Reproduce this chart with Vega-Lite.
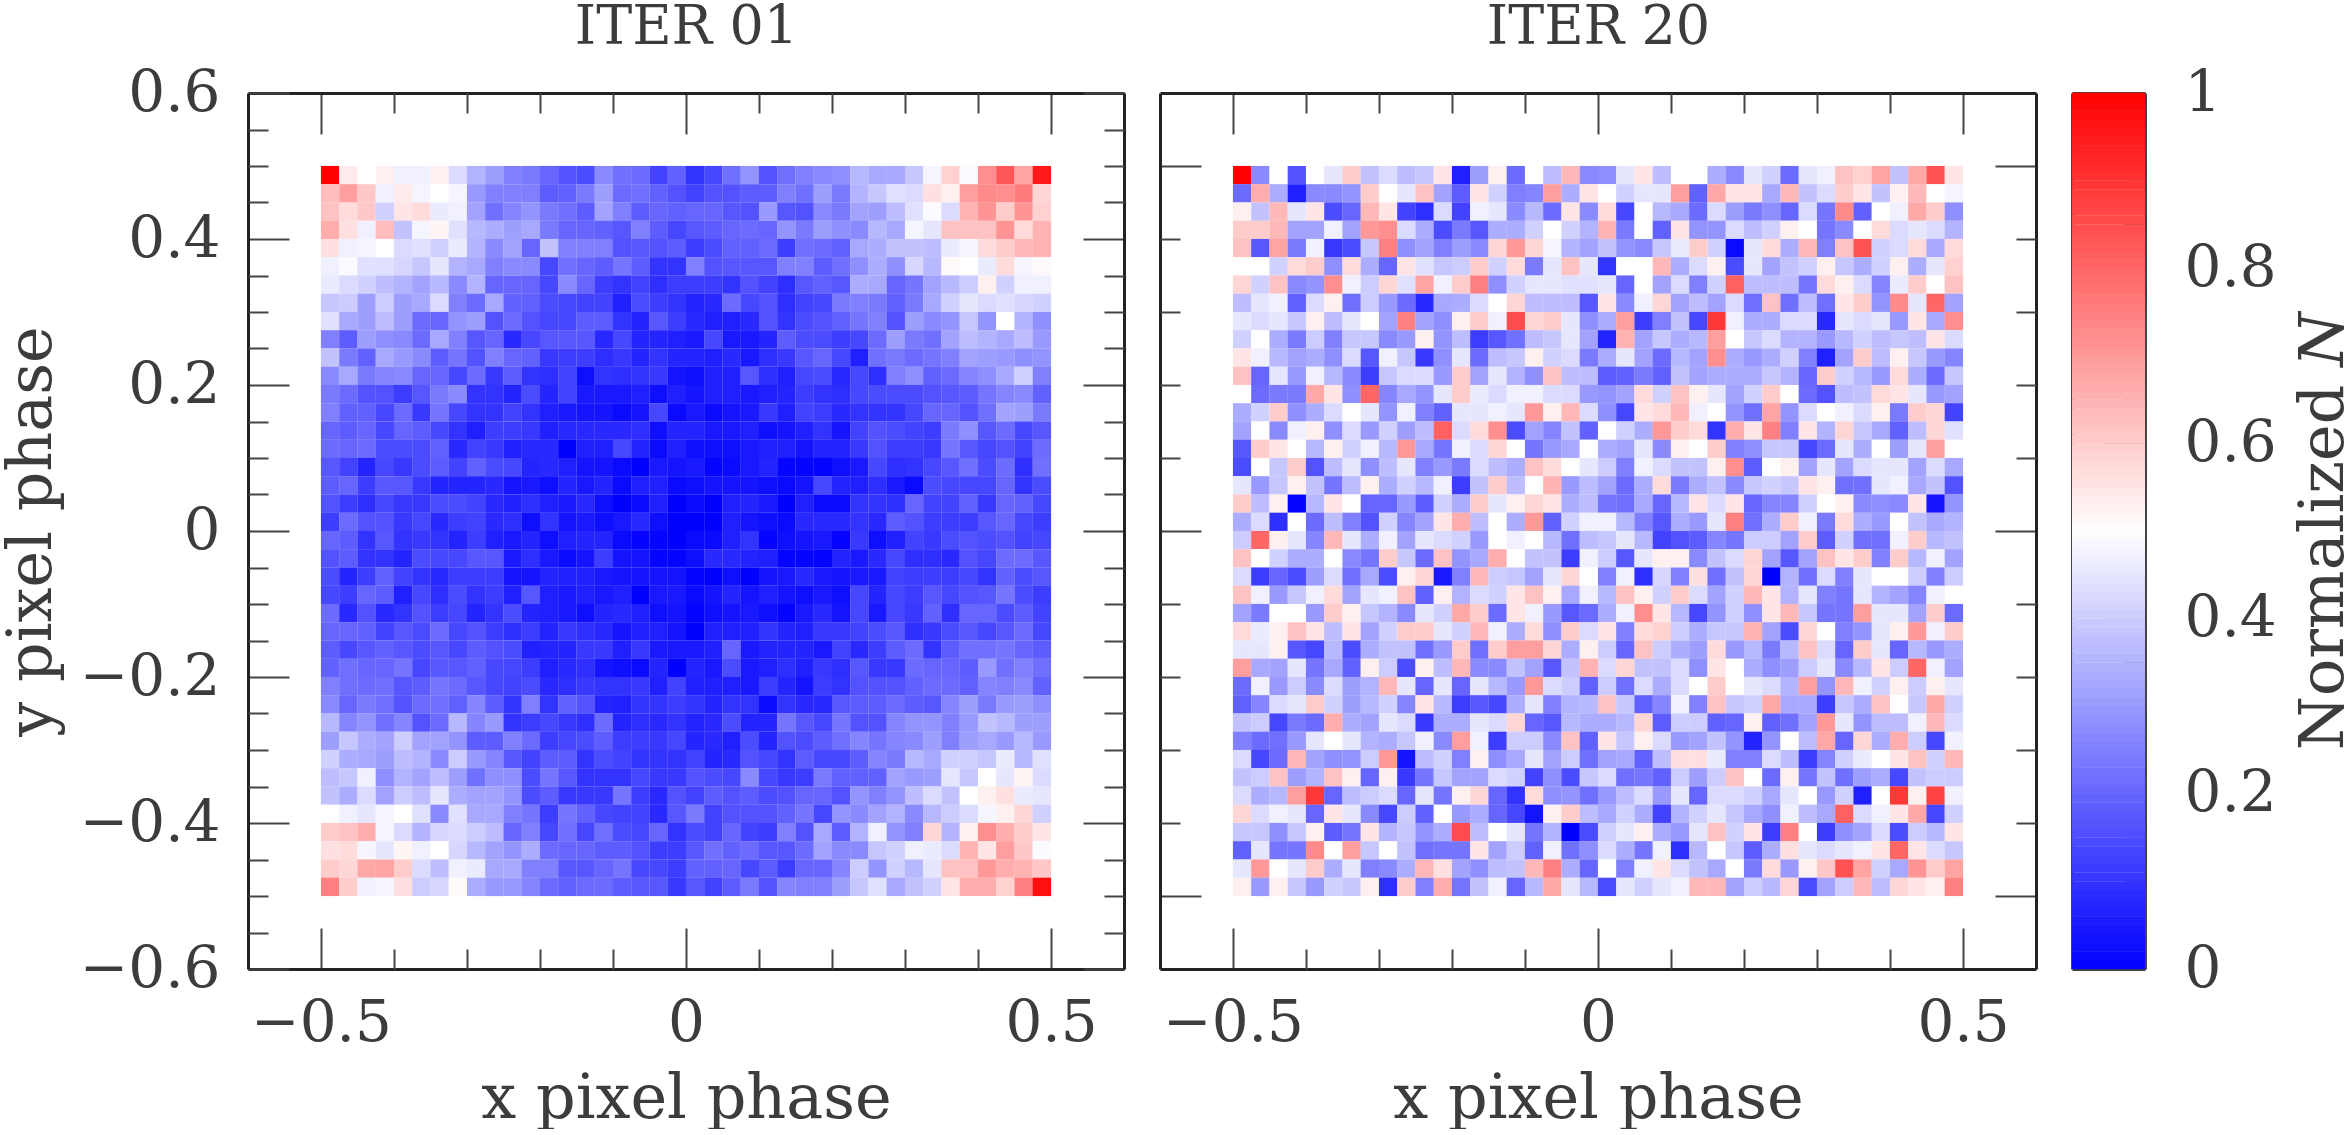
{"$schema":"https://vega.github.io/schema/vega-lite/v6.json","padding":{"left":0,"top":0,"right":0,"bottom":0},"background":"white","bounds":"flush","spacing":36,
"config":{"font":"DejaVu Serif","view":{"stroke":null},"axis":{"grid":false,"labelFont":"DejaVu Serif","labelFontSize":58,"labelColor":"#3c3c3c","titleFont":"DejaVu Serif","titleFontSize":62,"titleFontWeight":"normal","titleColor":"#3c3c3c","tickColor":"#444444","tickWidth":2,"domainColor":"#222222","domainWidth":3,"labelFlush":false,"labelOverlap":false}},
"datasets":{"frame":[{"x":0,"y":0}],
"iter01":[
{"c":0,"r":0,"n":100},{"c":1,"r":0,"n":54},{"c":2,"r":0,"n":50},{"c":3,"r":0,"n":53},{"c":4,"r":0,"n":47},{"c":5,"r":0,"n":47},{"c":6,"r":0,"n":53},{"c":7,"r":0,"n":43},{"c":8,"r":0,"n":35},{"c":9,"r":0,"n":31},{"c":10,"r":0,"n":25},{"c":11,"r":0,"n":24},{"c":12,"r":0,"n":20},{"c":13,"r":0,"n":16},{"c":14,"r":0,"n":15},{"c":15,"r":0,"n":27},{"c":16,"r":0,"n":22},{"c":17,"r":0,"n":21},{"c":18,"r":0,"n":13},{"c":19,"r":0,"n":19},{"c":20,"r":0,"n":10},{"c":21,"r":0,"n":14},{"c":22,"r":0,"n":22},{"c":23,"r":0,"n":29},{"c":24,"r":0,"n":16},{"c":25,"r":0,"n":22},{"c":26,"r":0,"n":25},{"c":27,"r":0,"n":27},{"c":28,"r":0,"n":28},{"c":29,"r":0,"n":36},{"c":30,"r":0,"n":33},{"c":31,"r":0,"n":33},{"c":32,"r":0,"n":39},{"c":33,"r":0,"n":48},{"c":34,"r":0,"n":59},{"c":35,"r":0,"n":49},{"c":36,"r":0,"n":72},{"c":37,"r":0,"n":83},{"c":38,"r":0,"n":68},{"c":39,"r":0,"n":95},
{"c":0,"r":1,"n":63},{"c":1,"r":1,"n":69},{"c":2,"r":1,"n":61},{"c":3,"r":1,"n":47},{"c":4,"r":1,"n":54},{"c":5,"r":1,"n":48},{"c":6,"r":1,"n":50},{"c":7,"r":1,"n":48},{"c":8,"r":1,"n":30},{"c":9,"r":1,"n":25},{"c":10,"r":1,"n":25},{"c":11,"r":1,"n":25},{"c":12,"r":1,"n":18},{"c":13,"r":1,"n":19},{"c":14,"r":1,"n":24},{"c":15,"r":1,"n":31},{"c":16,"r":1,"n":21},{"c":17,"r":1,"n":22},{"c":18,"r":1,"n":19},{"c":19,"r":1,"n":16},{"c":20,"r":1,"n":13},{"c":21,"r":1,"n":16},{"c":22,"r":1,"n":16},{"c":23,"r":1,"n":18},{"c":24,"r":1,"n":18},{"c":25,"r":1,"n":25},{"c":26,"r":1,"n":22},{"c":27,"r":1,"n":31},{"c":28,"r":1,"n":24},{"c":29,"r":1,"n":35},{"c":30,"r":1,"n":39},{"c":31,"r":1,"n":44},{"c":32,"r":1,"n":43},{"c":33,"r":1,"n":56},{"c":34,"r":1,"n":53},{"c":35,"r":1,"n":69},{"c":36,"r":1,"n":73},{"c":37,"r":1,"n":72},{"c":38,"r":1,"n":76},{"c":39,"r":1,"n":58},
{"c":0,"r":2,"n":62},{"c":1,"r":2,"n":57},{"c":2,"r":2,"n":61},{"c":3,"r":2,"n":41},{"c":4,"r":2,"n":55},{"c":5,"r":2,"n":57},{"c":6,"r":2,"n":46},{"c":7,"r":2,"n":47},{"c":8,"r":2,"n":32},{"c":9,"r":2,"n":22},{"c":10,"r":2,"n":26},{"c":11,"r":2,"n":29},{"c":12,"r":2,"n":24},{"c":13,"r":2,"n":22},{"c":14,"r":2,"n":18},{"c":15,"r":2,"n":32},{"c":16,"r":2,"n":25},{"c":17,"r":2,"n":18},{"c":18,"r":2,"n":20},{"c":19,"r":2,"n":19},{"c":20,"r":2,"n":20},{"c":21,"r":2,"n":20},{"c":22,"r":2,"n":17},{"c":23,"r":2,"n":16},{"c":24,"r":2,"n":30},{"c":25,"r":2,"n":17},{"c":26,"r":2,"n":16},{"c":27,"r":2,"n":27},{"c":28,"r":2,"n":24},{"c":29,"r":2,"n":32},{"c":30,"r":2,"n":31},{"c":31,"r":2,"n":37},{"c":32,"r":2,"n":44},{"c":33,"r":2,"n":49},{"c":34,"r":2,"n":43},{"c":35,"r":2,"n":65},{"c":36,"r":2,"n":71},{"c":37,"r":2,"n":60},{"c":38,"r":2,"n":71},{"c":39,"r":2,"n":59},
{"c":0,"r":3,"n":66},{"c":1,"r":3,"n":56},{"c":2,"r":3,"n":47},{"c":3,"r":3,"n":63},{"c":4,"r":3,"n":38},{"c":5,"r":3,"n":48},{"c":6,"r":3,"n":52},{"c":7,"r":3,"n":44},{"c":8,"r":3,"n":36},{"c":9,"r":3,"n":34},{"c":10,"r":3,"n":31},{"c":11,"r":3,"n":33},{"c":12,"r":3,"n":24},{"c":13,"r":3,"n":20},{"c":14,"r":3,"n":20},{"c":15,"r":3,"n":19},{"c":16,"r":3,"n":17},{"c":17,"r":3,"n":25},{"c":18,"r":3,"n":18},{"c":19,"r":3,"n":14},{"c":20,"r":3,"n":17},{"c":21,"r":3,"n":18},{"c":22,"r":3,"n":20},{"c":23,"r":3,"n":21},{"c":24,"r":3,"n":20},{"c":25,"r":3,"n":29},{"c":26,"r":3,"n":24},{"c":27,"r":3,"n":31},{"c":28,"r":3,"n":28},{"c":29,"r":3,"n":27},{"c":30,"r":3,"n":36},{"c":31,"r":3,"n":33},{"c":32,"r":3,"n":48},{"c":33,"r":3,"n":45},{"c":34,"r":3,"n":62},{"c":35,"r":3,"n":62},{"c":36,"r":3,"n":62},{"c":37,"r":3,"n":71},{"c":38,"r":3,"n":57},{"c":39,"r":3,"n":65},
{"c":0,"r":4,"n":56},{"c":1,"r":4,"n":47},{"c":2,"r":4,"n":48},{"c":3,"r":4,"n":50},{"c":4,"r":4,"n":43},{"c":5,"r":4,"n":44},{"c":6,"r":4,"n":41},{"c":7,"r":4,"n":46},{"c":8,"r":4,"n":35},{"c":9,"r":4,"n":27},{"c":10,"r":4,"n":32},{"c":11,"r":4,"n":20},{"c":12,"r":4,"n":38},{"c":13,"r":4,"n":25},{"c":14,"r":4,"n":25},{"c":15,"r":4,"n":25},{"c":16,"r":4,"n":16},{"c":17,"r":4,"n":17},{"c":18,"r":4,"n":16},{"c":19,"r":4,"n":18},{"c":20,"r":4,"n":12},{"c":21,"r":4,"n":15},{"c":22,"r":4,"n":19},{"c":23,"r":4,"n":19},{"c":24,"r":4,"n":21},{"c":25,"r":4,"n":12},{"c":26,"r":4,"n":22},{"c":27,"r":4,"n":21},{"c":28,"r":4,"n":19},{"c":29,"r":4,"n":33},{"c":30,"r":4,"n":34},{"c":31,"r":4,"n":38},{"c":32,"r":4,"n":38},{"c":33,"r":4,"n":37},{"c":34,"r":4,"n":46},{"c":35,"r":4,"n":48},{"c":36,"r":4,"n":57},{"c":37,"r":4,"n":60},{"c":38,"r":4,"n":64},{"c":39,"r":4,"n":65},
{"c":0,"r":5,"n":47},{"c":1,"r":5,"n":49},{"c":2,"r":5,"n":44},{"c":3,"r":5,"n":44},{"c":4,"r":5,"n":42},{"c":5,"r":5,"n":39},{"c":6,"r":5,"n":45},{"c":7,"r":5,"n":35},{"c":8,"r":5,"n":33},{"c":9,"r":5,"n":25},{"c":10,"r":5,"n":27},{"c":11,"r":5,"n":27},{"c":12,"r":5,"n":14},{"c":13,"r":5,"n":22},{"c":14,"r":5,"n":20},{"c":15,"r":5,"n":18},{"c":16,"r":5,"n":23},{"c":17,"r":5,"n":18},{"c":18,"r":5,"n":10},{"c":19,"r":5,"n":10},{"c":20,"r":5,"n":25},{"c":21,"r":5,"n":16},{"c":22,"r":5,"n":17},{"c":23,"r":5,"n":17},{"c":24,"r":5,"n":17},{"c":25,"r":5,"n":25},{"c":26,"r":5,"n":25},{"c":27,"r":5,"n":18},{"c":28,"r":5,"n":22},{"c":29,"r":5,"n":28},{"c":30,"r":5,"n":34},{"c":31,"r":5,"n":28},{"c":32,"r":5,"n":42},{"c":33,"r":5,"n":36},{"c":34,"r":5,"n":51},{"c":35,"r":5,"n":50},{"c":36,"r":5,"n":46},{"c":37,"r":5,"n":57},{"c":38,"r":5,"n":48},{"c":39,"r":5,"n":51},
{"c":0,"r":6,"n":46},{"c":1,"r":6,"n":43},{"c":2,"r":6,"n":41},{"c":3,"r":6,"n":37},{"c":4,"r":6,"n":35},{"c":5,"r":6,"n":32},{"c":6,"r":6,"n":36},{"c":7,"r":6,"n":27},{"c":8,"r":6,"n":35},{"c":9,"r":6,"n":20},{"c":10,"r":6,"n":20},{"c":11,"r":6,"n":20},{"c":12,"r":6,"n":14},{"c":13,"r":6,"n":27},{"c":14,"r":6,"n":20},{"c":15,"r":6,"n":12},{"c":16,"r":6,"n":10},{"c":17,"r":6,"n":13},{"c":18,"r":6,"n":9},{"c":19,"r":6,"n":12},{"c":20,"r":6,"n":12},{"c":21,"r":6,"n":12},{"c":22,"r":6,"n":10},{"c":23,"r":6,"n":16},{"c":24,"r":6,"n":13},{"c":25,"r":6,"n":9},{"c":26,"r":6,"n":17},{"c":27,"r":6,"n":19},{"c":28,"r":6,"n":17},{"c":29,"r":6,"n":34},{"c":30,"r":6,"n":33},{"c":31,"r":6,"n":20},{"c":32,"r":6,"n":23},{"c":33,"r":6,"n":32},{"c":34,"r":6,"n":36},{"c":35,"r":6,"n":40},{"c":36,"r":6,"n":53},{"c":37,"r":6,"n":41},{"c":38,"r":6,"n":47},{"c":39,"r":6,"n":47},
{"c":0,"r":7,"n":39},{"c":1,"r":7,"n":40},{"c":2,"r":7,"n":31},{"c":3,"r":7,"n":40},{"c":4,"r":7,"n":31},{"c":5,"r":7,"n":33},{"c":6,"r":7,"n":43},{"c":7,"r":7,"n":25},{"c":8,"r":7,"n":21},{"c":9,"r":7,"n":33},{"c":10,"r":7,"n":19},{"c":11,"r":7,"n":19},{"c":12,"r":7,"n":15},{"c":13,"r":7,"n":14},{"c":14,"r":7,"n":13},{"c":15,"r":7,"n":13},{"c":16,"r":7,"n":6},{"c":17,"r":7,"n":15},{"c":18,"r":7,"n":12},{"c":19,"r":7,"n":10},{"c":20,"r":7,"n":7},{"c":21,"r":7,"n":8},{"c":22,"r":7,"n":21},{"c":23,"r":7,"n":14},{"c":24,"r":7,"n":16},{"c":25,"r":7,"n":9},{"c":26,"r":7,"n":13},{"c":27,"r":7,"n":14},{"c":28,"r":7,"n":24},{"c":29,"r":7,"n":25},{"c":30,"r":7,"n":24},{"c":31,"r":7,"n":19},{"c":32,"r":7,"n":24},{"c":33,"r":7,"n":33},{"c":34,"r":7,"n":41},{"c":35,"r":7,"n":45},{"c":36,"r":7,"n":43},{"c":37,"r":7,"n":44},{"c":38,"r":7,"n":42},{"c":39,"r":7,"n":41},
{"c":0,"r":8,"n":44},{"c":1,"r":8,"n":33},{"c":2,"r":8,"n":31},{"c":3,"r":8,"n":37},{"c":4,"r":8,"n":31},{"c":5,"r":8,"n":21},{"c":6,"r":8,"n":20},{"c":7,"r":8,"n":29},{"c":8,"r":8,"n":31},{"c":9,"r":8,"n":16},{"c":10,"r":8,"n":21},{"c":11,"r":8,"n":16},{"c":12,"r":8,"n":14},{"c":13,"r":8,"n":14},{"c":14,"r":8,"n":18},{"c":15,"r":8,"n":18},{"c":16,"r":8,"n":10},{"c":17,"r":8,"n":7},{"c":18,"r":8,"n":17},{"c":19,"r":8,"n":12},{"c":20,"r":8,"n":8},{"c":21,"r":8,"n":6},{"c":22,"r":8,"n":6},{"c":23,"r":8,"n":8},{"c":24,"r":8,"n":16},{"c":25,"r":8,"n":10},{"c":26,"r":8,"n":15},{"c":27,"r":8,"n":16},{"c":28,"r":8,"n":19},{"c":29,"r":8,"n":23},{"c":30,"r":8,"n":25},{"c":31,"r":8,"n":16},{"c":32,"r":8,"n":31},{"c":33,"r":8,"n":27},{"c":34,"r":8,"n":29},{"c":35,"r":8,"n":39},{"c":36,"r":8,"n":29},{"c":37,"r":8,"n":50},{"c":38,"r":8,"n":35},{"c":39,"r":8,"n":28},
{"c":0,"r":9,"n":25},{"c":1,"r":9,"n":18},{"c":2,"r":9,"n":31},{"c":3,"r":9,"n":28},{"c":4,"r":9,"n":27},{"c":5,"r":9,"n":21},{"c":6,"r":9,"n":33},{"c":7,"r":9,"n":25},{"c":8,"r":9,"n":17},{"c":9,"r":9,"n":20},{"c":10,"r":9,"n":8},{"c":11,"r":9,"n":14},{"c":12,"r":9,"n":17},{"c":13,"r":9,"n":17},{"c":14,"r":9,"n":17},{"c":15,"r":9,"n":8},{"c":16,"r":9,"n":14},{"c":17,"r":9,"n":7},{"c":18,"r":9,"n":7},{"c":19,"r":9,"n":6},{"c":20,"r":9,"n":5},{"c":21,"r":9,"n":14},{"c":22,"r":9,"n":5},{"c":23,"r":9,"n":5},{"c":24,"r":9,"n":7},{"c":25,"r":9,"n":18},{"c":26,"r":9,"n":15},{"c":27,"r":9,"n":15},{"c":28,"r":9,"n":12},{"c":29,"r":9,"n":14},{"c":30,"r":9,"n":21},{"c":31,"r":9,"n":31},{"c":32,"r":9,"n":24},{"c":33,"r":9,"n":22},{"c":34,"r":9,"n":32},{"c":35,"r":9,"n":37},{"c":36,"r":9,"n":35},{"c":37,"r":9,"n":33},{"c":38,"r":9,"n":37},{"c":39,"r":9,"n":30},
{"c":0,"r":10,"n":38},{"c":1,"r":10,"n":24},{"c":2,"r":10,"n":19},{"c":3,"r":10,"n":33},{"c":4,"r":10,"n":30},{"c":5,"r":10,"n":27},{"c":6,"r":10,"n":18},{"c":7,"r":10,"n":23},{"c":8,"r":10,"n":16},{"c":9,"r":10,"n":25},{"c":10,"r":10,"n":20},{"c":11,"r":10,"n":19},{"c":12,"r":10,"n":11},{"c":13,"r":10,"n":12},{"c":14,"r":10,"n":12},{"c":15,"r":10,"n":9},{"c":16,"r":10,"n":11},{"c":17,"r":10,"n":7},{"c":18,"r":10,"n":10},{"c":19,"r":10,"n":7},{"c":20,"r":10,"n":7},{"c":21,"r":10,"n":6},{"c":22,"r":10,"n":8},{"c":23,"r":10,"n":5},{"c":24,"r":10,"n":9},{"c":25,"r":10,"n":11},{"c":26,"r":10,"n":17},{"c":27,"r":10,"n":20},{"c":28,"r":10,"n":14},{"c":29,"r":10,"n":6},{"c":30,"r":10,"n":22},{"c":31,"r":10,"n":24},{"c":32,"r":10,"n":21},{"c":33,"r":10,"n":23},{"c":34,"r":10,"n":25},{"c":35,"r":10,"n":32},{"c":36,"r":10,"n":31},{"c":37,"r":10,"n":30},{"c":38,"r":10,"n":28},{"c":39,"r":10,"n":29},
{"c":0,"r":11,"n":27},{"c":1,"r":11,"n":33},{"c":2,"r":11,"n":24},{"c":3,"r":11,"n":26},{"c":4,"r":11,"n":27},{"c":5,"r":11,"n":20},{"c":6,"r":11,"n":20},{"c":7,"r":11,"n":14},{"c":8,"r":11,"n":21},{"c":9,"r":11,"n":11},{"c":10,"r":11,"n":18},{"c":11,"r":11,"n":10},{"c":12,"r":11,"n":9},{"c":13,"r":11,"n":13},{"c":14,"r":11,"n":3},{"c":15,"r":11,"n":10},{"c":16,"r":11,"n":9},{"c":17,"r":11,"n":10},{"c":18,"r":11,"n":11},{"c":19,"r":11,"n":4},{"c":20,"r":11,"n":3},{"c":21,"r":11,"n":6},{"c":22,"r":11,"n":6},{"c":23,"r":11,"n":17},{"c":24,"r":11,"n":9},{"c":25,"r":11,"n":6},{"c":26,"r":11,"n":14},{"c":27,"r":11,"n":15},{"c":28,"r":11,"n":8},{"c":29,"r":11,"n":14},{"c":30,"r":11,"n":9},{"c":31,"r":11,"n":25},{"c":32,"r":11,"n":28},{"c":33,"r":11,"n":19},{"c":34,"r":11,"n":21},{"c":35,"r":11,"n":26},{"c":36,"r":11,"n":28},{"c":37,"r":11,"n":33},{"c":38,"r":11,"n":41},{"c":39,"r":11,"n":25},
{"c":0,"r":12,"n":24},{"c":1,"r":12,"n":21},{"c":2,"r":12,"n":16},{"c":3,"r":12,"n":16},{"c":4,"r":12,"n":12},{"c":5,"r":12,"n":17},{"c":6,"r":12,"n":24},{"c":7,"r":12,"n":27},{"c":8,"r":12,"n":10},{"c":9,"r":12,"n":10},{"c":10,"r":12,"n":7},{"c":11,"r":12,"n":15},{"c":12,"r":12,"n":7},{"c":13,"r":12,"n":13},{"c":14,"r":12,"n":5},{"c":15,"r":12,"n":5},{"c":16,"r":12,"n":5},{"c":17,"r":12,"n":6},{"c":18,"r":12,"n":3},{"c":19,"r":12,"n":6},{"c":20,"r":12,"n":4},{"c":21,"r":12,"n":6},{"c":22,"r":12,"n":6},{"c":23,"r":12,"n":5},{"c":24,"r":12,"n":6},{"c":25,"r":12,"n":7},{"c":26,"r":12,"n":12},{"c":27,"r":12,"n":10},{"c":28,"r":12,"n":9},{"c":29,"r":12,"n":14},{"c":30,"r":12,"n":15},{"c":31,"r":12,"n":15},{"c":32,"r":12,"n":15},{"c":33,"r":12,"n":16},{"c":34,"r":12,"n":17},{"c":35,"r":12,"n":18},{"c":36,"r":12,"n":23},{"c":37,"r":12,"n":26},{"c":38,"r":12,"n":27},{"c":39,"r":12,"n":19},
{"c":0,"r":13,"n":25},{"c":1,"r":13,"n":19},{"c":2,"r":13,"n":19},{"c":3,"r":13,"n":14},{"c":4,"r":13,"n":21},{"c":5,"r":13,"n":11},{"c":6,"r":13,"n":23},{"c":7,"r":13,"n":14},{"c":8,"r":13,"n":10},{"c":9,"r":13,"n":10},{"c":10,"r":13,"n":13},{"c":11,"r":13,"n":10},{"c":12,"r":13,"n":6},{"c":13,"r":13,"n":5},{"c":14,"r":13,"n":4},{"c":15,"r":13,"n":4},{"c":16,"r":13,"n":2},{"c":17,"r":13,"n":4},{"c":18,"r":13,"n":14},{"c":19,"r":13,"n":2},{"c":20,"r":13,"n":5},{"c":21,"r":13,"n":2},{"c":22,"r":13,"n":4},{"c":23,"r":13,"n":5},{"c":24,"r":13,"n":11},{"c":25,"r":13,"n":6},{"c":26,"r":13,"n":13},{"c":27,"r":13,"n":12},{"c":28,"r":13,"n":8},{"c":29,"r":13,"n":10},{"c":30,"r":13,"n":10},{"c":31,"r":13,"n":10},{"c":32,"r":13,"n":14},{"c":33,"r":13,"n":20},{"c":34,"r":13,"n":20},{"c":35,"r":13,"n":16},{"c":36,"r":13,"n":22},{"c":37,"r":13,"n":32},{"c":38,"r":13,"n":31},{"c":39,"r":13,"n":24},
{"c":0,"r":14,"n":20},{"c":1,"r":14,"n":18},{"c":2,"r":14,"n":20},{"c":3,"r":14,"n":14},{"c":4,"r":14,"n":20},{"c":5,"r":14,"n":18},{"c":6,"r":14,"n":14},{"c":7,"r":14,"n":10},{"c":8,"r":14,"n":6},{"c":9,"r":14,"n":12},{"c":10,"r":14,"n":12},{"c":11,"r":14,"n":11},{"c":12,"r":14,"n":6},{"c":13,"r":14,"n":8},{"c":14,"r":14,"n":8},{"c":15,"r":14,"n":8},{"c":16,"r":14,"n":8},{"c":17,"r":14,"n":9},{"c":18,"r":14,"n":3},{"c":19,"r":14,"n":7},{"c":20,"r":14,"n":7},{"c":21,"r":14,"n":5},{"c":22,"r":14,"n":5},{"c":23,"r":14,"n":6},{"c":24,"r":14,"n":3},{"c":25,"r":14,"n":4},{"c":26,"r":14,"n":6},{"c":27,"r":14,"n":10},{"c":28,"r":14,"n":4},{"c":29,"r":14,"n":13},{"c":30,"r":14,"n":16},{"c":31,"r":14,"n":15},{"c":32,"r":14,"n":13},{"c":33,"r":14,"n":12},{"c":34,"r":14,"n":24},{"c":35,"r":14,"n":28},{"c":36,"r":14,"n":17},{"c":37,"r":14,"n":21},{"c":38,"r":14,"n":14},{"c":39,"r":14,"n":17},
{"c":0,"r":15,"n":21},{"c":1,"r":15,"n":20},{"c":2,"r":15,"n":21},{"c":3,"r":15,"n":15},{"c":4,"r":15,"n":15},{"c":5,"r":15,"n":15},{"c":6,"r":15,"n":19},{"c":7,"r":15,"n":8},{"c":8,"r":15,"n":13},{"c":9,"r":15,"n":11},{"c":10,"r":15,"n":6},{"c":11,"r":15,"n":8},{"c":12,"r":15,"n":8},{"c":13,"r":15,"n":0},{"c":14,"r":15,"n":6},{"c":15,"r":15,"n":6},{"c":16,"r":15,"n":14},{"c":17,"r":15,"n":7},{"c":18,"r":15,"n":2},{"c":19,"r":15,"n":6},{"c":20,"r":15,"n":3},{"c":21,"r":15,"n":3},{"c":22,"r":15,"n":3},{"c":23,"r":15,"n":5},{"c":24,"r":15,"n":6},{"c":25,"r":15,"n":6},{"c":26,"r":15,"n":4},{"c":27,"r":15,"n":7},{"c":28,"r":15,"n":7},{"c":29,"r":15,"n":11},{"c":30,"r":15,"n":16},{"c":31,"r":15,"n":12},{"c":32,"r":15,"n":12},{"c":33,"r":15,"n":11},{"c":34,"r":15,"n":23},{"c":35,"r":15,"n":17},{"c":36,"r":15,"n":14},{"c":37,"r":15,"n":16},{"c":38,"r":15,"n":13},{"c":39,"r":15,"n":21},
{"c":0,"r":16,"n":17},{"c":1,"r":16,"n":13},{"c":2,"r":16,"n":7},{"c":3,"r":16,"n":14},{"c":4,"r":16,"n":11},{"c":5,"r":16,"n":15},{"c":6,"r":16,"n":18},{"c":7,"r":16,"n":13},{"c":8,"r":16,"n":19},{"c":9,"r":16,"n":15},{"c":10,"r":16,"n":14},{"c":11,"r":16,"n":7},{"c":12,"r":16,"n":8},{"c":13,"r":16,"n":6},{"c":14,"r":16,"n":4},{"c":15,"r":16,"n":4},{"c":16,"r":16,"n":2},{"c":17,"r":16,"n":0},{"c":18,"r":16,"n":5},{"c":19,"r":16,"n":4},{"c":20,"r":16,"n":5},{"c":21,"r":16,"n":1},{"c":22,"r":16,"n":2},{"c":23,"r":16,"n":5},{"c":24,"r":16,"n":7},{"c":25,"r":16,"n":1},{"c":26,"r":16,"n":1},{"c":27,"r":16,"n":1},{"c":28,"r":16,"n":3},{"c":29,"r":16,"n":5},{"c":30,"r":16,"n":14},{"c":31,"r":16,"n":9},{"c":32,"r":16,"n":10},{"c":33,"r":16,"n":14},{"c":34,"r":16,"n":17},{"c":35,"r":16,"n":22},{"c":36,"r":16,"n":15},{"c":37,"r":16,"n":21},{"c":38,"r":16,"n":9},{"c":39,"r":16,"n":22},
{"c":0,"r":17,"n":18},{"c":1,"r":17,"n":20},{"c":2,"r":17,"n":12},{"c":3,"r":17,"n":17},{"c":4,"r":17,"n":17},{"c":5,"r":17,"n":11},{"c":6,"r":17,"n":7},{"c":7,"r":17,"n":7},{"c":8,"r":17,"n":7},{"c":9,"r":17,"n":8},{"c":10,"r":17,"n":4},{"c":11,"r":17,"n":5},{"c":12,"r":17,"n":3},{"c":13,"r":17,"n":7},{"c":14,"r":17,"n":5},{"c":15,"r":17,"n":7},{"c":16,"r":17,"n":2},{"c":17,"r":17,"n":6},{"c":18,"r":17,"n":6},{"c":19,"r":17,"n":2},{"c":20,"r":17,"n":3},{"c":21,"r":17,"n":4},{"c":22,"r":17,"n":4},{"c":23,"r":17,"n":4},{"c":24,"r":17,"n":3},{"c":25,"r":17,"n":2},{"c":26,"r":17,"n":4},{"c":27,"r":17,"n":14},{"c":28,"r":17,"n":7},{"c":29,"r":17,"n":6},{"c":30,"r":17,"n":9},{"c":31,"r":17,"n":5},{"c":32,"r":17,"n":2},{"c":33,"r":17,"n":15},{"c":34,"r":17,"n":14},{"c":35,"r":17,"n":14},{"c":36,"r":17,"n":14},{"c":37,"r":17,"n":20},{"c":38,"r":17,"n":10},{"c":39,"r":17,"n":15},
{"c":0,"r":18,"n":16},{"c":1,"r":18,"n":12},{"c":2,"r":18,"n":9},{"c":3,"r":18,"n":14},{"c":4,"r":18,"n":11},{"c":5,"r":18,"n":11},{"c":6,"r":18,"n":15},{"c":7,"r":18,"n":15},{"c":8,"r":18,"n":13},{"c":9,"r":18,"n":8},{"c":10,"r":18,"n":6},{"c":11,"r":18,"n":9},{"c":12,"r":18,"n":6},{"c":13,"r":18,"n":5},{"c":14,"r":18,"n":8},{"c":15,"r":18,"n":3},{"c":16,"r":18,"n":0},{"c":17,"r":18,"n":2},{"c":18,"r":18,"n":6},{"c":19,"r":18,"n":0},{"c":20,"r":18,"n":2},{"c":21,"r":18,"n":0},{"c":22,"r":18,"n":6},{"c":23,"r":18,"n":7},{"c":24,"r":18,"n":5},{"c":25,"r":18,"n":0},{"c":26,"r":18,"n":6},{"c":27,"r":18,"n":2},{"c":28,"r":18,"n":2},{"c":29,"r":18,"n":10},{"c":30,"r":18,"n":10},{"c":31,"r":18,"n":9},{"c":32,"r":18,"n":20},{"c":33,"r":18,"n":13},{"c":34,"r":18,"n":13},{"c":35,"r":18,"n":19},{"c":36,"r":18,"n":11},{"c":37,"r":18,"n":20},{"c":38,"r":18,"n":19},{"c":39,"r":18,"n":14},
{"c":0,"r":19,"n":12},{"c":1,"r":19,"n":21},{"c":2,"r":19,"n":16},{"c":3,"r":19,"n":16},{"c":4,"r":19,"n":11},{"c":5,"r":19,"n":14},{"c":6,"r":19,"n":8},{"c":7,"r":19,"n":12},{"c":8,"r":19,"n":13},{"c":9,"r":19,"n":8},{"c":10,"r":19,"n":9},{"c":11,"r":19,"n":3},{"c":12,"r":19,"n":10},{"c":13,"r":19,"n":4},{"c":14,"r":19,"n":5},{"c":15,"r":19,"n":3},{"c":16,"r":19,"n":5},{"c":17,"r":19,"n":8},{"c":18,"r":19,"n":3},{"c":19,"r":19,"n":0},{"c":20,"r":19,"n":0},{"c":21,"r":19,"n":0},{"c":22,"r":19,"n":6},{"c":23,"r":19,"n":4},{"c":24,"r":19,"n":3},{"c":25,"r":19,"n":2},{"c":26,"r":19,"n":8},{"c":27,"r":19,"n":8},{"c":28,"r":19,"n":8},{"c":29,"r":19,"n":10},{"c":30,"r":19,"n":8},{"c":31,"r":19,"n":18},{"c":32,"r":19,"n":16},{"c":33,"r":19,"n":12},{"c":34,"r":19,"n":12},{"c":35,"r":19,"n":12},{"c":36,"r":19,"n":17},{"c":37,"r":19,"n":20},{"c":38,"r":19,"n":14},{"c":39,"r":19,"n":12},
{"c":0,"r":20,"n":20},{"c":1,"r":20,"n":18},{"c":2,"r":20,"n":10},{"c":3,"r":20,"n":17},{"c":4,"r":20,"n":10},{"c":5,"r":20,"n":11},{"c":6,"r":20,"n":10},{"c":7,"r":20,"n":7},{"c":8,"r":20,"n":12},{"c":9,"r":20,"n":6},{"c":10,"r":20,"n":5},{"c":11,"r":20,"n":7},{"c":12,"r":20,"n":3},{"c":13,"r":20,"n":6},{"c":14,"r":20,"n":7},{"c":15,"r":20,"n":7},{"c":16,"r":20,"n":2},{"c":17,"r":20,"n":1},{"c":18,"r":20,"n":1},{"c":19,"r":20,"n":0},{"c":20,"r":20,"n":2},{"c":21,"r":20,"n":2},{"c":22,"r":20,"n":6},{"c":23,"r":20,"n":10},{"c":24,"r":20,"n":1},{"c":25,"r":20,"n":3},{"c":26,"r":20,"n":4},{"c":27,"r":20,"n":5},{"c":28,"r":20,"n":1},{"c":29,"r":20,"n":11},{"c":30,"r":20,"n":3},{"c":31,"r":20,"n":6},{"c":32,"r":20,"n":13},{"c":33,"r":20,"n":11},{"c":34,"r":20,"n":15},{"c":35,"r":20,"n":16},{"c":36,"r":20,"n":15},{"c":37,"r":20,"n":16},{"c":38,"r":20,"n":13},{"c":39,"r":20,"n":14},
{"c":0,"r":21,"n":16},{"c":1,"r":21,"n":18},{"c":2,"r":21,"n":10},{"c":3,"r":21,"n":10},{"c":4,"r":21,"n":7},{"c":5,"r":21,"n":15},{"c":6,"r":21,"n":14},{"c":7,"r":21,"n":14},{"c":8,"r":21,"n":17},{"c":9,"r":21,"n":17},{"c":10,"r":21,"n":5},{"c":11,"r":21,"n":9},{"c":12,"r":21,"n":5},{"c":13,"r":21,"n":2},{"c":14,"r":21,"n":4},{"c":15,"r":21,"n":12},{"c":16,"r":21,"n":4},{"c":17,"r":21,"n":4},{"c":18,"r":21,"n":1},{"c":19,"r":21,"n":1},{"c":20,"r":21,"n":3},{"c":21,"r":21,"n":8},{"c":22,"r":21,"n":8},{"c":23,"r":21,"n":7},{"c":24,"r":21,"n":6},{"c":25,"r":21,"n":1},{"c":26,"r":21,"n":1},{"c":27,"r":21,"n":1},{"c":28,"r":21,"n":7},{"c":29,"r":21,"n":5},{"c":30,"r":21,"n":8},{"c":31,"r":21,"n":14},{"c":32,"r":21,"n":9},{"c":33,"r":21,"n":9},{"c":34,"r":21,"n":8},{"c":35,"r":21,"n":16},{"c":36,"r":21,"n":14},{"c":37,"r":21,"n":21},{"c":38,"r":21,"n":21},{"c":39,"r":21,"n":17},
{"c":0,"r":22,"n":15},{"c":1,"r":22,"n":7},{"c":2,"r":22,"n":12},{"c":3,"r":22,"n":19},{"c":4,"r":22,"n":13},{"c":5,"r":22,"n":10},{"c":6,"r":22,"n":8},{"c":7,"r":22,"n":12},{"c":8,"r":22,"n":12},{"c":9,"r":22,"n":12},{"c":10,"r":22,"n":4},{"c":11,"r":22,"n":4},{"c":12,"r":22,"n":7},{"c":13,"r":22,"n":6},{"c":14,"r":22,"n":6},{"c":15,"r":22,"n":5},{"c":16,"r":22,"n":4},{"c":17,"r":22,"n":4},{"c":18,"r":22,"n":4},{"c":19,"r":22,"n":4},{"c":20,"r":22,"n":1},{"c":21,"r":22,"n":0},{"c":22,"r":22,"n":3},{"c":23,"r":22,"n":0},{"c":24,"r":22,"n":4},{"c":25,"r":22,"n":5},{"c":26,"r":22,"n":8},{"c":27,"r":22,"n":5},{"c":28,"r":22,"n":4},{"c":29,"r":22,"n":5},{"c":30,"r":22,"n":5},{"c":31,"r":22,"n":13},{"c":32,"r":22,"n":12},{"c":33,"r":22,"n":12},{"c":34,"r":22,"n":12},{"c":35,"r":22,"n":14},{"c":36,"r":22,"n":10},{"c":37,"r":22,"n":19},{"c":38,"r":22,"n":15},{"c":39,"r":22,"n":17},
{"c":0,"r":23,"n":14},{"c":1,"r":23,"n":12},{"c":2,"r":23,"n":20},{"c":3,"r":23,"n":18},{"c":4,"r":23,"n":6},{"c":5,"r":23,"n":14},{"c":6,"r":23,"n":9},{"c":7,"r":23,"n":15},{"c":8,"r":23,"n":10},{"c":9,"r":23,"n":12},{"c":10,"r":23,"n":6},{"c":11,"r":23,"n":17},{"c":12,"r":23,"n":6},{"c":13,"r":23,"n":5},{"c":14,"r":23,"n":6},{"c":15,"r":23,"n":5},{"c":16,"r":23,"n":6},{"c":17,"r":23,"n":0},{"c":18,"r":23,"n":5},{"c":19,"r":23,"n":5},{"c":20,"r":23,"n":2},{"c":21,"r":23,"n":4},{"c":22,"r":23,"n":7},{"c":23,"r":23,"n":4},{"c":24,"r":23,"n":6},{"c":25,"r":23,"n":4},{"c":26,"r":23,"n":3},{"c":27,"r":23,"n":5},{"c":28,"r":23,"n":3},{"c":29,"r":23,"n":14},{"c":30,"r":23,"n":7},{"c":31,"r":23,"n":14},{"c":32,"r":23,"n":12},{"c":33,"r":23,"n":17},{"c":34,"r":23,"n":14},{"c":35,"r":23,"n":16},{"c":36,"r":23,"n":17},{"c":37,"r":23,"n":23},{"c":38,"r":23,"n":15},{"c":39,"r":23,"n":12},
{"c":0,"r":24,"n":21},{"c":1,"r":24,"n":8},{"c":2,"r":24,"n":16},{"c":3,"r":24,"n":8},{"c":4,"r":24,"n":10},{"c":5,"r":24,"n":16},{"c":6,"r":24,"n":12},{"c":7,"r":24,"n":14},{"c":8,"r":24,"n":7},{"c":9,"r":24,"n":10},{"c":10,"r":24,"n":15},{"c":11,"r":24,"n":7},{"c":12,"r":24,"n":6},{"c":13,"r":24,"n":5},{"c":14,"r":24,"n":3},{"c":15,"r":24,"n":7},{"c":16,"r":24,"n":8},{"c":17,"r":24,"n":6},{"c":18,"r":24,"n":3},{"c":19,"r":24,"n":4},{"c":20,"r":24,"n":1},{"c":21,"r":24,"n":3},{"c":22,"r":24,"n":4},{"c":23,"r":24,"n":5},{"c":24,"r":24,"n":3},{"c":25,"r":24,"n":1},{"c":26,"r":24,"n":5},{"c":27,"r":24,"n":8},{"c":28,"r":24,"n":4},{"c":29,"r":24,"n":14},{"c":30,"r":24,"n":5},{"c":31,"r":24,"n":14},{"c":32,"r":24,"n":11},{"c":33,"r":24,"n":19},{"c":34,"r":24,"n":9},{"c":35,"r":24,"n":20},{"c":36,"r":24,"n":20},{"c":37,"r":24,"n":15},{"c":38,"r":24,"n":18},{"c":39,"r":24,"n":13},
{"c":0,"r":25,"n":20},{"c":1,"r":25,"n":20},{"c":2,"r":25,"n":19},{"c":3,"r":25,"n":13},{"c":4,"r":25,"n":17},{"c":5,"r":25,"n":15},{"c":6,"r":25,"n":21},{"c":7,"r":25,"n":14},{"c":8,"r":25,"n":16},{"c":9,"r":25,"n":12},{"c":10,"r":25,"n":9},{"c":11,"r":25,"n":12},{"c":12,"r":25,"n":7},{"c":13,"r":25,"n":11},{"c":14,"r":25,"n":9},{"c":15,"r":25,"n":8},{"c":16,"r":25,"n":4},{"c":17,"r":25,"n":6},{"c":18,"r":25,"n":6},{"c":19,"r":25,"n":4},{"c":20,"r":25,"n":0},{"c":21,"r":25,"n":6},{"c":22,"r":25,"n":6},{"c":23,"r":25,"n":6},{"c":24,"r":25,"n":10},{"c":25,"r":25,"n":7},{"c":26,"r":25,"n":6},{"c":27,"r":25,"n":11},{"c":28,"r":25,"n":11},{"c":29,"r":25,"n":13},{"c":30,"r":25,"n":15},{"c":31,"r":25,"n":17},{"c":32,"r":25,"n":9},{"c":33,"r":25,"n":11},{"c":34,"r":25,"n":15},{"c":35,"r":25,"n":17},{"c":36,"r":25,"n":14},{"c":37,"r":25,"n":17},{"c":38,"r":25,"n":21},{"c":39,"r":25,"n":14},
{"c":0,"r":26,"n":18},{"c":1,"r":26,"n":14},{"c":2,"r":26,"n":17},{"c":3,"r":26,"n":19},{"c":4,"r":26,"n":17},{"c":5,"r":26,"n":15},{"c":6,"r":26,"n":17},{"c":7,"r":26,"n":14},{"c":8,"r":26,"n":18},{"c":9,"r":26,"n":16},{"c":10,"r":26,"n":15},{"c":11,"r":26,"n":6},{"c":12,"r":26,"n":7},{"c":13,"r":26,"n":7},{"c":14,"r":26,"n":11},{"c":15,"r":26,"n":11},{"c":16,"r":26,"n":6},{"c":17,"r":26,"n":11},{"c":18,"r":26,"n":5},{"c":19,"r":26,"n":5},{"c":20,"r":26,"n":5},{"c":21,"r":26,"n":6},{"c":22,"r":26,"n":20},{"c":23,"r":26,"n":5},{"c":24,"r":26,"n":7},{"c":25,"r":26,"n":7},{"c":26,"r":26,"n":7},{"c":27,"r":26,"n":5},{"c":28,"r":26,"n":13},{"c":29,"r":26,"n":8},{"c":30,"r":26,"n":12},{"c":31,"r":26,"n":18},{"c":32,"r":26,"n":21},{"c":33,"r":26,"n":10},{"c":34,"r":26,"n":18},{"c":35,"r":26,"n":22},{"c":36,"r":26,"n":22},{"c":37,"r":26,"n":23},{"c":38,"r":26,"n":20},{"c":39,"r":26,"n":18},
{"c":0,"r":27,"n":19},{"c":1,"r":27,"n":22},{"c":2,"r":27,"n":20},{"c":3,"r":27,"n":20},{"c":4,"r":27,"n":23},{"c":5,"r":27,"n":14},{"c":6,"r":27,"n":17},{"c":7,"r":27,"n":17},{"c":8,"r":27,"n":19},{"c":9,"r":27,"n":14},{"c":10,"r":27,"n":14},{"c":11,"r":27,"n":12},{"c":12,"r":27,"n":6},{"c":13,"r":27,"n":8},{"c":14,"r":27,"n":9},{"c":15,"r":27,"n":4},{"c":16,"r":27,"n":3},{"c":17,"r":27,"n":2},{"c":18,"r":27,"n":7},{"c":19,"r":27,"n":0},{"c":20,"r":27,"n":7},{"c":21,"r":27,"n":5},{"c":22,"r":27,"n":15},{"c":23,"r":27,"n":5},{"c":24,"r":27,"n":6},{"c":25,"r":27,"n":9},{"c":26,"r":27,"n":6},{"c":27,"r":27,"n":11},{"c":28,"r":27,"n":9},{"c":29,"r":27,"n":17},{"c":30,"r":27,"n":11},{"c":31,"r":27,"n":11},{"c":32,"r":27,"n":21},{"c":33,"r":27,"n":20},{"c":34,"r":27,"n":20},{"c":35,"r":27,"n":18},{"c":36,"r":27,"n":30},{"c":37,"r":27,"n":22},{"c":38,"r":27,"n":25},{"c":39,"r":27,"n":22},
{"c":0,"r":28,"n":25},{"c":1,"r":28,"n":22},{"c":2,"r":28,"n":21},{"c":3,"r":28,"n":22},{"c":4,"r":28,"n":17},{"c":5,"r":28,"n":18},{"c":6,"r":28,"n":23},{"c":7,"r":28,"n":21},{"c":8,"r":28,"n":17},{"c":9,"r":28,"n":14},{"c":10,"r":28,"n":13},{"c":11,"r":28,"n":15},{"c":12,"r":28,"n":8},{"c":13,"r":28,"n":9},{"c":14,"r":28,"n":11},{"c":15,"r":28,"n":10},{"c":16,"r":28,"n":10},{"c":17,"r":28,"n":11},{"c":18,"r":28,"n":6},{"c":19,"r":28,"n":13},{"c":20,"r":28,"n":6},{"c":21,"r":28,"n":6},{"c":22,"r":28,"n":6},{"c":23,"r":28,"n":5},{"c":24,"r":28,"n":12},{"c":25,"r":28,"n":7},{"c":26,"r":28,"n":4},{"c":27,"r":28,"n":12},{"c":28,"r":28,"n":10},{"c":29,"r":28,"n":16},{"c":30,"r":28,"n":16},{"c":31,"r":28,"n":16},{"c":32,"r":28,"n":19},{"c":33,"r":28,"n":21},{"c":34,"r":28,"n":21},{"c":35,"r":28,"n":19},{"c":36,"r":28,"n":26},{"c":37,"r":28,"n":25},{"c":38,"r":28,"n":27},{"c":39,"r":28,"n":19},
{"c":0,"r":29,"n":27},{"c":1,"r":29,"n":20},{"c":2,"r":29,"n":24},{"c":3,"r":29,"n":22},{"c":4,"r":29,"n":16},{"c":5,"r":29,"n":21},{"c":6,"r":29,"n":22},{"c":7,"r":29,"n":19},{"c":8,"r":29,"n":26},{"c":9,"r":29,"n":18},{"c":10,"r":29,"n":10},{"c":11,"r":29,"n":25},{"c":12,"r":29,"n":10},{"c":13,"r":29,"n":19},{"c":14,"r":29,"n":16},{"c":15,"r":29,"n":7},{"c":16,"r":29,"n":6},{"c":17,"r":29,"n":10},{"c":18,"r":29,"n":10},{"c":19,"r":29,"n":12},{"c":20,"r":29,"n":10},{"c":21,"r":29,"n":7},{"c":22,"r":29,"n":10},{"c":23,"r":29,"n":10},{"c":24,"r":29,"n":2},{"c":25,"r":29,"n":10},{"c":26,"r":29,"n":8},{"c":27,"r":29,"n":8},{"c":28,"r":29,"n":17},{"c":29,"r":29,"n":18},{"c":30,"r":29,"n":18},{"c":31,"r":29,"n":21},{"c":32,"r":29,"n":18},{"c":33,"r":29,"n":17},{"c":34,"r":29,"n":26},{"c":35,"r":29,"n":31},{"c":36,"r":29,"n":24},{"c":37,"r":29,"n":30},{"c":38,"r":29,"n":31},{"c":39,"r":29,"n":28},
{"c":0,"r":30,"n":36},{"c":1,"r":30,"n":26},{"c":2,"r":30,"n":29},{"c":3,"r":30,"n":22},{"c":4,"r":30,"n":26},{"c":5,"r":30,"n":16},{"c":6,"r":30,"n":21},{"c":7,"r":30,"n":36},{"c":8,"r":30,"n":26},{"c":9,"r":30,"n":30},{"c":10,"r":30,"n":10},{"c":11,"r":30,"n":12},{"c":12,"r":30,"n":14},{"c":13,"r":30,"n":11},{"c":14,"r":30,"n":9},{"c":15,"r":30,"n":21},{"c":16,"r":30,"n":7},{"c":17,"r":30,"n":9},{"c":18,"r":30,"n":8},{"c":19,"r":30,"n":10},{"c":20,"r":30,"n":7},{"c":21,"r":30,"n":8},{"c":22,"r":30,"n":15},{"c":23,"r":30,"n":7},{"c":24,"r":30,"n":7},{"c":25,"r":30,"n":23},{"c":26,"r":30,"n":17},{"c":27,"r":30,"n":14},{"c":28,"r":30,"n":23},{"c":29,"r":30,"n":16},{"c":30,"r":30,"n":16},{"c":31,"r":30,"n":26},{"c":32,"r":30,"n":29},{"c":33,"r":30,"n":29},{"c":34,"r":30,"n":25},{"c":35,"r":30,"n":30},{"c":36,"r":30,"n":38},{"c":37,"r":30,"n":36},{"c":38,"r":30,"n":31},{"c":39,"r":30,"n":31},
{"c":0,"r":31,"n":31},{"c":1,"r":31,"n":39},{"c":2,"r":31,"n":34},{"c":3,"r":31,"n":32},{"c":4,"r":31,"n":40},{"c":5,"r":31,"n":32},{"c":6,"r":31,"n":32},{"c":7,"r":31,"n":29},{"c":8,"r":31,"n":18},{"c":9,"r":31,"n":18},{"c":10,"r":31,"n":25},{"c":11,"r":31,"n":21},{"c":12,"r":31,"n":12},{"c":13,"r":31,"n":14},{"c":14,"r":31,"n":15},{"c":15,"r":31,"n":18},{"c":16,"r":31,"n":12},{"c":17,"r":31,"n":12},{"c":18,"r":31,"n":11},{"c":19,"r":31,"n":14},{"c":20,"r":31,"n":7},{"c":21,"r":31,"n":8},{"c":22,"r":31,"n":6},{"c":23,"r":31,"n":15},{"c":24,"r":31,"n":7},{"c":25,"r":31,"n":16},{"c":26,"r":31,"n":15},{"c":27,"r":31,"n":18},{"c":28,"r":31,"n":22},{"c":29,"r":31,"n":26},{"c":30,"r":31,"n":23},{"c":31,"r":31,"n":26},{"c":32,"r":31,"n":27},{"c":33,"r":31,"n":31},{"c":34,"r":31,"n":25},{"c":35,"r":31,"n":31},{"c":36,"r":31,"n":33},{"c":37,"r":31,"n":30},{"c":38,"r":31,"n":36},{"c":39,"r":31,"n":30},
{"c":0,"r":32,"n":41},{"c":1,"r":32,"n":34},{"c":2,"r":32,"n":33},{"c":3,"r":32,"n":31},{"c":4,"r":32,"n":37},{"c":5,"r":32,"n":35},{"c":6,"r":32,"n":27},{"c":7,"r":32,"n":40},{"c":8,"r":32,"n":30},{"c":9,"r":32,"n":26},{"c":10,"r":32,"n":17},{"c":11,"r":32,"n":13},{"c":12,"r":32,"n":18},{"c":13,"r":32,"n":18},{"c":14,"r":32,"n":10},{"c":15,"r":32,"n":15},{"c":16,"r":32,"n":13},{"c":17,"r":32,"n":10},{"c":18,"r":32,"n":10},{"c":19,"r":32,"n":10},{"c":20,"r":32,"n":13},{"c":21,"r":32,"n":7},{"c":22,"r":32,"n":8},{"c":23,"r":32,"n":16},{"c":24,"r":32,"n":14},{"c":25,"r":32,"n":10},{"c":26,"r":32,"n":18},{"c":27,"r":32,"n":14},{"c":28,"r":32,"n":14},{"c":29,"r":32,"n":18},{"c":30,"r":32,"n":26},{"c":31,"r":32,"n":24},{"c":32,"r":32,"n":36},{"c":33,"r":32,"n":33},{"c":34,"r":32,"n":41},{"c":35,"r":32,"n":41},{"c":36,"r":32,"n":39},{"c":37,"r":32,"n":46},{"c":38,"r":32,"n":36},{"c":39,"r":32,"n":44},
{"c":0,"r":33,"n":37},{"c":1,"r":33,"n":39},{"c":2,"r":33,"n":47},{"c":3,"r":33,"n":28},{"c":4,"r":33,"n":35},{"c":5,"r":33,"n":32},{"c":6,"r":33,"n":37},{"c":7,"r":33,"n":31},{"c":8,"r":33,"n":22},{"c":9,"r":33,"n":28},{"c":10,"r":33,"n":28},{"c":11,"r":33,"n":15},{"c":12,"r":33,"n":23},{"c":13,"r":33,"n":17},{"c":14,"r":33,"n":10},{"c":15,"r":33,"n":10},{"c":16,"r":33,"n":10},{"c":17,"r":33,"n":14},{"c":18,"r":33,"n":11},{"c":19,"r":33,"n":11},{"c":20,"r":33,"n":16},{"c":21,"r":33,"n":15},{"c":22,"r":33,"n":14},{"c":23,"r":33,"n":27},{"c":24,"r":33,"n":14},{"c":25,"r":33,"n":11},{"c":26,"r":33,"n":12},{"c":27,"r":33,"n":24},{"c":28,"r":33,"n":19},{"c":29,"r":33,"n":19},{"c":30,"r":33,"n":19},{"c":31,"r":33,"n":32},{"c":32,"r":33,"n":30},{"c":33,"r":33,"n":31},{"c":34,"r":33,"n":45},{"c":35,"r":33,"n":39},{"c":36,"r":33,"n":50},{"c":37,"r":33,"n":45},{"c":38,"r":33,"n":52},{"c":39,"r":33,"n":43},
{"c":0,"r":34,"n":38},{"c":1,"r":34,"n":34},{"c":2,"r":34,"n":43},{"c":3,"r":34,"n":32},{"c":4,"r":34,"n":40},{"c":5,"r":34,"n":37},{"c":6,"r":34,"n":45},{"c":7,"r":34,"n":34},{"c":8,"r":34,"n":32},{"c":9,"r":34,"n":32},{"c":10,"r":34,"n":29},{"c":11,"r":34,"n":15},{"c":12,"r":34,"n":18},{"c":13,"r":34,"n":11},{"c":14,"r":34,"n":11},{"c":15,"r":34,"n":11},{"c":16,"r":34,"n":23},{"c":17,"r":34,"n":12},{"c":18,"r":34,"n":8},{"c":19,"r":34,"n":16},{"c":20,"r":34,"n":13},{"c":21,"r":34,"n":18},{"c":22,"r":34,"n":16},{"c":23,"r":34,"n":18},{"c":24,"r":34,"n":15},{"c":25,"r":34,"n":16},{"c":26,"r":34,"n":20},{"c":27,"r":34,"n":20},{"c":28,"r":34,"n":16},{"c":29,"r":34,"n":29},{"c":30,"r":34,"n":25},{"c":31,"r":34,"n":29},{"c":32,"r":34,"n":37},{"c":33,"r":34,"n":43},{"c":34,"r":34,"n":38},{"c":35,"r":34,"n":50},{"c":36,"r":34,"n":53},{"c":37,"r":34,"n":56},{"c":38,"r":34,"n":46},{"c":39,"r":34,"n":45},
{"c":0,"r":35,"n":50},{"c":1,"r":35,"n":47},{"c":2,"r":35,"n":45},{"c":3,"r":35,"n":48},{"c":4,"r":35,"n":50},{"c":5,"r":35,"n":44},{"c":6,"r":35,"n":27},{"c":7,"r":35,"n":44},{"c":8,"r":35,"n":33},{"c":9,"r":35,"n":33},{"c":10,"r":35,"n":25},{"c":11,"r":35,"n":23},{"c":12,"r":35,"n":12},{"c":13,"r":35,"n":23},{"c":14,"r":35,"n":19},{"c":15,"r":35,"n":14},{"c":16,"r":35,"n":13},{"c":17,"r":35,"n":13},{"c":18,"r":35,"n":8},{"c":19,"r":35,"n":17},{"c":20,"r":35,"n":24},{"c":21,"r":35,"n":13},{"c":22,"r":35,"n":16},{"c":23,"r":35,"n":16},{"c":24,"r":35,"n":16},{"c":25,"r":35,"n":19},{"c":26,"r":35,"n":23},{"c":27,"r":35,"n":14},{"c":28,"r":35,"n":29},{"c":29,"r":35,"n":27},{"c":30,"r":35,"n":32},{"c":31,"r":35,"n":35},{"c":32,"r":35,"n":27},{"c":33,"r":35,"n":36},{"c":34,"r":35,"n":40},{"c":35,"r":35,"n":43},{"c":36,"r":35,"n":48},{"c":37,"r":35,"n":53},{"c":38,"r":35,"n":58},{"c":39,"r":35,"n":41},
{"c":0,"r":36,"n":60},{"c":1,"r":36,"n":62},{"c":2,"r":36,"n":66},{"c":3,"r":36,"n":48},{"c":4,"r":36,"n":43},{"c":5,"r":36,"n":35},{"c":6,"r":36,"n":42},{"c":7,"r":36,"n":43},{"c":8,"r":36,"n":40},{"c":9,"r":36,"n":37},{"c":10,"r":36,"n":20},{"c":11,"r":36,"n":25},{"c":12,"r":36,"n":14},{"c":13,"r":36,"n":22},{"c":14,"r":36,"n":14},{"c":15,"r":36,"n":22},{"c":16,"r":36,"n":15},{"c":17,"r":36,"n":14},{"c":18,"r":36,"n":20},{"c":19,"r":36,"n":10},{"c":20,"r":36,"n":15},{"c":21,"r":36,"n":13},{"c":22,"r":36,"n":20},{"c":23,"r":36,"n":13},{"c":24,"r":36,"n":12},{"c":25,"r":36,"n":25},{"c":26,"r":36,"n":16},{"c":27,"r":36,"n":33},{"c":28,"r":36,"n":18},{"c":29,"r":36,"n":35},{"c":30,"r":36,"n":47},{"c":31,"r":36,"n":29},{"c":32,"r":36,"n":25},{"c":33,"r":36,"n":58},{"c":34,"r":36,"n":35},{"c":35,"r":36,"n":53},{"c":36,"r":36,"n":72},{"c":37,"r":36,"n":66},{"c":38,"r":36,"n":60},{"c":39,"r":36,"n":55},
{"c":0,"r":37,"n":56},{"c":1,"r":37,"n":57},{"c":2,"r":37,"n":48},{"c":3,"r":37,"n":45},{"c":4,"r":37,"n":52},{"c":5,"r":37,"n":47},{"c":6,"r":37,"n":50},{"c":7,"r":37,"n":42},{"c":8,"r":37,"n":36},{"c":9,"r":37,"n":32},{"c":10,"r":37,"n":29},{"c":11,"r":37,"n":34},{"c":12,"r":37,"n":21},{"c":13,"r":37,"n":20},{"c":14,"r":37,"n":20},{"c":15,"r":37,"n":18},{"c":16,"r":37,"n":18},{"c":17,"r":37,"n":16},{"c":18,"r":37,"n":12},{"c":19,"r":37,"n":12},{"c":20,"r":37,"n":17},{"c":21,"r":37,"n":22},{"c":22,"r":37,"n":19},{"c":23,"r":37,"n":21},{"c":24,"r":37,"n":17},{"c":25,"r":37,"n":17},{"c":26,"r":37,"n":21},{"c":27,"r":37,"n":32},{"c":28,"r":37,"n":27},{"c":29,"r":37,"n":27},{"c":30,"r":37,"n":39},{"c":31,"r":37,"n":41},{"c":32,"r":37,"n":47},{"c":33,"r":37,"n":46},{"c":34,"r":37,"n":43},{"c":35,"r":37,"n":65},{"c":36,"r":37,"n":55},{"c":37,"r":37,"n":69},{"c":38,"r":37,"n":61},{"c":39,"r":37,"n":49},
{"c":0,"r":38,"n":60},{"c":1,"r":38,"n":58},{"c":2,"r":38,"n":67},{"c":3,"r":38,"n":68},{"c":4,"r":38,"n":60},{"c":5,"r":38,"n":43},{"c":6,"r":38,"n":37},{"c":7,"r":38,"n":47},{"c":8,"r":38,"n":46},{"c":9,"r":38,"n":33},{"c":10,"r":38,"n":33},{"c":11,"r":38,"n":25},{"c":12,"r":38,"n":25},{"c":13,"r":38,"n":17},{"c":14,"r":38,"n":17},{"c":15,"r":38,"n":20},{"c":16,"r":38,"n":23},{"c":17,"r":38,"n":14},{"c":18,"r":38,"n":14},{"c":19,"r":38,"n":12},{"c":20,"r":38,"n":19},{"c":21,"r":38,"n":19},{"c":22,"r":38,"n":20},{"c":23,"r":38,"n":14},{"c":24,"r":38,"n":18},{"c":25,"r":38,"n":12},{"c":26,"r":38,"n":20},{"c":27,"r":38,"n":20},{"c":28,"r":38,"n":26},{"c":29,"r":38,"n":40},{"c":30,"r":38,"n":29},{"c":31,"r":38,"n":41},{"c":32,"r":38,"n":36},{"c":33,"r":38,"n":45},{"c":34,"r":38,"n":62},{"c":35,"r":38,"n":62},{"c":36,"r":38,"n":70},{"c":37,"r":38,"n":66},{"c":38,"r":38,"n":65},{"c":39,"r":38,"n":61},
{"c":0,"r":39,"n":75},{"c":1,"r":39,"n":60},{"c":2,"r":39,"n":47},{"c":3,"r":39,"n":48},{"c":4,"r":39,"n":56},{"c":5,"r":39,"n":40},{"c":6,"r":39,"n":42},{"c":7,"r":39,"n":51},{"c":8,"r":39,"n":34},{"c":9,"r":39,"n":30},{"c":10,"r":39,"n":30},{"c":11,"r":39,"n":26},{"c":12,"r":39,"n":21},{"c":13,"r":39,"n":19},{"c":14,"r":39,"n":21},{"c":15,"r":39,"n":21},{"c":16,"r":39,"n":18},{"c":17,"r":39,"n":17},{"c":18,"r":39,"n":17},{"c":19,"r":39,"n":11},{"c":20,"r":39,"n":17},{"c":21,"r":39,"n":13},{"c":22,"r":39,"n":18},{"c":23,"r":39,"n":24},{"c":24,"r":39,"n":16},{"c":25,"r":39,"n":26},{"c":26,"r":39,"n":25},{"c":27,"r":39,"n":25},{"c":28,"r":39,"n":31},{"c":29,"r":39,"n":39},{"c":30,"r":39,"n":44},{"c":31,"r":39,"n":33},{"c":32,"r":39,"n":38},{"c":33,"r":39,"n":41},{"c":34,"r":39,"n":55},{"c":35,"r":39,"n":66},{"c":36,"r":39,"n":66},{"c":37,"r":39,"n":59},{"c":38,"r":39,"n":75},{"c":39,"r":39,"n":97}
],
"iter20":[
{"c":0,"r":0,"n":100},{"c":1,"r":0,"n":27},{"c":2,"r":0,"n":50},{"c":3,"r":0,"n":16},{"c":4,"r":0,"n":50},{"c":5,"r":0,"n":45},{"c":6,"r":0,"n":60},{"c":7,"r":0,"n":38},{"c":8,"r":0,"n":43},{"c":9,"r":0,"n":37},{"c":10,"r":0,"n":39},{"c":11,"r":0,"n":55},{"c":12,"r":0,"n":6},{"c":13,"r":0,"n":31},{"c":14,"r":0,"n":53},{"c":15,"r":0,"n":21},{"c":16,"r":0,"n":50},{"c":17,"r":0,"n":37},{"c":18,"r":0,"n":64},{"c":19,"r":0,"n":27},{"c":20,"r":0,"n":28},{"c":21,"r":0,"n":45},{"c":22,"r":0,"n":55},{"c":23,"r":0,"n":37},{"c":24,"r":0,"n":50},{"c":25,"r":0,"n":50},{"c":26,"r":0,"n":34},{"c":27,"r":0,"n":27},{"c":28,"r":0,"n":45},{"c":29,"r":0,"n":41},{"c":30,"r":0,"n":21},{"c":31,"r":0,"n":45},{"c":32,"r":0,"n":47},{"c":33,"r":0,"n":62},{"c":34,"r":0,"n":59},{"c":35,"r":0,"n":68},{"c":36,"r":0,"n":38},{"c":37,"r":0,"n":67},{"c":38,"r":0,"n":84},{"c":39,"r":0,"n":55},
{"c":0,"r":1,"n":21},{"c":1,"r":1,"n":66},{"c":2,"r":1,"n":34},{"c":3,"r":1,"n":6},{"c":4,"r":1,"n":27},{"c":5,"r":1,"n":27},{"c":6,"r":1,"n":29},{"c":7,"r":1,"n":60},{"c":8,"r":1,"n":50},{"c":9,"r":1,"n":45},{"c":10,"r":1,"n":62},{"c":11,"r":1,"n":32},{"c":12,"r":1,"n":18},{"c":13,"r":1,"n":55},{"c":14,"r":1,"n":41},{"c":15,"r":1,"n":25},{"c":16,"r":1,"n":26},{"c":17,"r":1,"n":69},{"c":18,"r":1,"n":34},{"c":19,"r":1,"n":55},{"c":20,"r":1,"n":50},{"c":21,"r":1,"n":41},{"c":22,"r":1,"n":45},{"c":23,"r":1,"n":45},{"c":24,"r":1,"n":69},{"c":25,"r":1,"n":19},{"c":26,"r":1,"n":67},{"c":27,"r":1,"n":55},{"c":28,"r":1,"n":55},{"c":29,"r":1,"n":33},{"c":30,"r":1,"n":64},{"c":31,"r":1,"n":38},{"c":32,"r":1,"n":43},{"c":33,"r":1,"n":60},{"c":34,"r":1,"n":55},{"c":35,"r":1,"n":38},{"c":36,"r":1,"n":53},{"c":37,"r":1,"n":64},{"c":38,"r":1,"n":50},{"c":39,"r":1,"n":48},
{"c":0,"r":2,"n":53},{"c":1,"r":2,"n":38},{"c":2,"r":2,"n":64},{"c":3,"r":2,"n":45},{"c":4,"r":2,"n":55},{"c":5,"r":2,"n":15},{"c":6,"r":2,"n":20},{"c":7,"r":2,"n":64},{"c":8,"r":2,"n":55},{"c":9,"r":2,"n":13},{"c":10,"r":2,"n":9},{"c":11,"r":2,"n":43},{"c":12,"r":2,"n":13},{"c":13,"r":2,"n":47},{"c":14,"r":2,"n":45},{"c":15,"r":2,"n":27},{"c":16,"r":2,"n":36},{"c":17,"r":2,"n":21},{"c":18,"r":2,"n":55},{"c":19,"r":2,"n":27},{"c":20,"r":2,"n":57},{"c":21,"r":2,"n":14},{"c":22,"r":2,"n":50},{"c":23,"r":2,"n":36},{"c":24,"r":2,"n":33},{"c":25,"r":2,"n":21},{"c":26,"r":2,"n":43},{"c":27,"r":2,"n":31},{"c":28,"r":2,"n":24},{"c":29,"r":2,"n":28},{"c":30,"r":2,"n":20},{"c":31,"r":2,"n":43},{"c":32,"r":2,"n":23},{"c":33,"r":2,"n":73},{"c":34,"r":2,"n":19},{"c":35,"r":2,"n":50},{"c":36,"r":2,"n":47},{"c":37,"r":2,"n":67},{"c":38,"r":2,"n":60},{"c":39,"r":2,"n":28},
{"c":0,"r":3,"n":60},{"c":1,"r":3,"n":60},{"c":2,"r":3,"n":64},{"c":3,"r":3,"n":32},{"c":4,"r":3,"n":32},{"c":5,"r":3,"n":47},{"c":6,"r":3,"n":32},{"c":7,"r":3,"n":70},{"c":8,"r":3,"n":72},{"c":9,"r":3,"n":43},{"c":10,"r":3,"n":34},{"c":11,"r":3,"n":15},{"c":12,"r":3,"n":24},{"c":13,"r":3,"n":17},{"c":14,"r":3,"n":34},{"c":15,"r":3,"n":34},{"c":16,"r":3,"n":41},{"c":17,"r":3,"n":50},{"c":18,"r":3,"n":41},{"c":19,"r":3,"n":35},{"c":20,"r":3,"n":65},{"c":21,"r":3,"n":24},{"c":22,"r":3,"n":50},{"c":23,"r":3,"n":19},{"c":24,"r":3,"n":55},{"c":25,"r":3,"n":29},{"c":26,"r":3,"n":29},{"c":27,"r":3,"n":43},{"c":28,"r":3,"n":37},{"c":29,"r":3,"n":41},{"c":30,"r":3,"n":53},{"c":31,"r":3,"n":50},{"c":32,"r":3,"n":23},{"c":33,"r":3,"n":27},{"c":34,"r":3,"n":50},{"c":35,"r":3,"n":57},{"c":36,"r":3,"n":43},{"c":37,"r":3,"n":45},{"c":38,"r":3,"n":43},{"c":39,"r":3,"n":35},
{"c":0,"r":4,"n":62},{"c":1,"r":4,"n":17},{"c":2,"r":4,"n":68},{"c":3,"r":4,"n":24},{"c":4,"r":4,"n":47},{"c":5,"r":4,"n":11},{"c":6,"r":4,"n":15},{"c":7,"r":4,"n":39},{"c":8,"r":4,"n":75},{"c":9,"r":4,"n":28},{"c":10,"r":4,"n":32},{"c":11,"r":4,"n":25},{"c":12,"r":4,"n":31},{"c":13,"r":4,"n":27},{"c":14,"r":4,"n":58},{"c":15,"r":4,"n":70},{"c":16,"r":4,"n":58},{"c":17,"r":4,"n":48},{"c":18,"r":4,"n":35},{"c":19,"r":4,"n":32},{"c":20,"r":4,"n":38},{"c":21,"r":4,"n":29},{"c":22,"r":4,"n":27},{"c":23,"r":4,"n":39},{"c":24,"r":4,"n":46},{"c":25,"r":4,"n":60},{"c":26,"r":4,"n":41},{"c":27,"r":4,"n":2},{"c":28,"r":4,"n":45},{"c":29,"r":4,"n":57},{"c":30,"r":4,"n":34},{"c":31,"r":4,"n":64},{"c":32,"r":4,"n":25},{"c":33,"r":4,"n":62},{"c":34,"r":4,"n":84},{"c":35,"r":4,"n":41},{"c":36,"r":4,"n":43},{"c":37,"r":4,"n":57},{"c":38,"r":4,"n":33},{"c":39,"r":4,"n":57},
{"c":0,"r":5,"n":50},{"c":1,"r":5,"n":50},{"c":2,"r":5,"n":41},{"c":3,"r":5,"n":57},{"c":4,"r":5,"n":60},{"c":5,"r":5,"n":28},{"c":6,"r":5,"n":57},{"c":7,"r":5,"n":34},{"c":8,"r":5,"n":20},{"c":9,"r":5,"n":55},{"c":10,"r":5,"n":44},{"c":11,"r":5,"n":39},{"c":12,"r":5,"n":40},{"c":13,"r":5,"n":60},{"c":14,"r":5,"n":41},{"c":15,"r":5,"n":57},{"c":16,"r":5,"n":24},{"c":17,"r":5,"n":45},{"c":18,"r":5,"n":62},{"c":19,"r":5,"n":45},{"c":20,"r":5,"n":10},{"c":21,"r":5,"n":50},{"c":22,"r":5,"n":50},{"c":23,"r":5,"n":64},{"c":24,"r":5,"n":34},{"c":25,"r":5,"n":43},{"c":26,"r":5,"n":53},{"c":27,"r":5,"n":15},{"c":28,"r":5,"n":45},{"c":29,"r":5,"n":32},{"c":30,"r":5,"n":38},{"c":31,"r":5,"n":41},{"c":32,"r":5,"n":53},{"c":33,"r":5,"n":39},{"c":34,"r":5,"n":34},{"c":35,"r":5,"n":41},{"c":36,"r":5,"n":53},{"c":37,"r":5,"n":34},{"c":38,"r":5,"n":45},{"c":39,"r":5,"n":59},
{"c":0,"r":6,"n":58},{"c":1,"r":6,"n":41},{"c":2,"r":6,"n":62},{"c":3,"r":6,"n":27},{"c":4,"r":6,"n":29},{"c":5,"r":6,"n":72},{"c":6,"r":6,"n":47},{"c":7,"r":6,"n":40},{"c":8,"r":6,"n":58},{"c":9,"r":6,"n":44},{"c":10,"r":6,"n":68},{"c":11,"r":6,"n":47},{"c":12,"r":6,"n":60},{"c":13,"r":6,"n":75},{"c":14,"r":6,"n":28},{"c":15,"r":6,"n":41},{"c":16,"r":6,"n":45},{"c":17,"r":6,"n":45},{"c":18,"r":6,"n":44},{"c":19,"r":6,"n":44},{"c":20,"r":6,"n":45},{"c":21,"r":6,"n":20},{"c":22,"r":6,"n":50},{"c":23,"r":6,"n":32},{"c":24,"r":6,"n":43},{"c":25,"r":6,"n":25},{"c":26,"r":6,"n":41},{"c":27,"r":6,"n":81},{"c":28,"r":6,"n":37},{"c":29,"r":6,"n":37},{"c":30,"r":6,"n":37},{"c":31,"r":6,"n":23},{"c":32,"r":6,"n":57},{"c":33,"r":6,"n":53},{"c":34,"r":6,"n":43},{"c":35,"r":6,"n":26},{"c":36,"r":6,"n":46},{"c":37,"r":6,"n":60},{"c":38,"r":6,"n":50},{"c":39,"r":6,"n":62},
{"c":0,"r":7,"n":37},{"c":1,"r":7,"n":45},{"c":2,"r":7,"n":47},{"c":3,"r":7,"n":19},{"c":4,"r":7,"n":43},{"c":5,"r":7,"n":53},{"c":6,"r":7,"n":22},{"c":7,"r":7,"n":40},{"c":8,"r":7,"n":30},{"c":9,"r":7,"n":21},{"c":10,"r":7,"n":8},{"c":11,"r":7,"n":33},{"c":12,"r":7,"n":34},{"c":13,"r":7,"n":43},{"c":14,"r":7,"n":50},{"c":15,"r":7,"n":58},{"c":16,"r":7,"n":37},{"c":17,"r":7,"n":37},{"c":18,"r":7,"n":37},{"c":19,"r":7,"n":17},{"c":20,"r":7,"n":55},{"c":21,"r":7,"n":27},{"c":22,"r":7,"n":47},{"c":23,"r":7,"n":58},{"c":24,"r":7,"n":32},{"c":25,"r":7,"n":37},{"c":26,"r":7,"n":32},{"c":27,"r":7,"n":43},{"c":28,"r":7,"n":22},{"c":29,"r":7,"n":62},{"c":30,"r":7,"n":22},{"c":31,"r":7,"n":37},{"c":32,"r":7,"n":22},{"c":33,"r":7,"n":55},{"c":34,"r":7,"n":60},{"c":35,"r":7,"n":29},{"c":36,"r":7,"n":73},{"c":37,"r":7,"n":45},{"c":38,"r":7,"n":80},{"c":39,"r":7,"n":32},
{"c":0,"r":8,"n":45},{"c":1,"r":8,"n":43},{"c":2,"r":8,"n":45},{"c":3,"r":8,"n":39},{"c":4,"r":8,"n":53},{"c":5,"r":8,"n":37},{"c":6,"r":8,"n":45},{"c":7,"r":8,"n":50},{"c":8,"r":8,"n":32},{"c":9,"r":8,"n":75},{"c":10,"r":8,"n":32},{"c":11,"r":8,"n":28},{"c":12,"r":8,"n":53},{"c":13,"r":8,"n":60},{"c":14,"r":8,"n":47},{"c":15,"r":8,"n":85},{"c":16,"r":8,"n":58},{"c":17,"r":8,"n":60},{"c":18,"r":8,"n":45},{"c":19,"r":8,"n":28},{"c":20,"r":8,"n":34},{"c":21,"r":8,"n":69},{"c":22,"r":8,"n":12},{"c":23,"r":8,"n":25},{"c":24,"r":8,"n":38},{"c":25,"r":8,"n":14},{"c":26,"r":8,"n":89},{"c":27,"r":8,"n":47},{"c":28,"r":8,"n":34},{"c":29,"r":8,"n":34},{"c":30,"r":8,"n":43},{"c":31,"r":8,"n":43},{"c":32,"r":8,"n":8},{"c":33,"r":8,"n":45},{"c":34,"r":8,"n":43},{"c":35,"r":8,"n":45},{"c":36,"r":8,"n":30},{"c":37,"r":8,"n":55},{"c":38,"r":8,"n":33},{"c":39,"r":8,"n":72},
{"c":0,"r":9,"n":41},{"c":1,"r":9,"n":50},{"c":2,"r":9,"n":34},{"c":3,"r":9,"n":24},{"c":4,"r":9,"n":40},{"c":5,"r":9,"n":25},{"c":6,"r":9,"n":39},{"c":7,"r":9,"n":39},{"c":8,"r":9,"n":27},{"c":9,"r":9,"n":30},{"c":10,"r":9,"n":53},{"c":11,"r":9,"n":29},{"c":12,"r":9,"n":37},{"c":13,"r":9,"n":12},{"c":14,"r":9,"n":17},{"c":15,"r":9,"n":22},{"c":16,"r":9,"n":37},{"c":17,"r":9,"n":39},{"c":18,"r":9,"n":45},{"c":19,"r":9,"n":32},{"c":20,"r":9,"n":7},{"c":21,"r":9,"n":65},{"c":22,"r":9,"n":32},{"c":23,"r":9,"n":39},{"c":24,"r":9,"n":34},{"c":25,"r":9,"n":36},{"c":26,"r":9,"n":69},{"c":27,"r":9,"n":50},{"c":28,"r":9,"n":39},{"c":29,"r":9,"n":43},{"c":30,"r":9,"n":35},{"c":31,"r":9,"n":35},{"c":32,"r":9,"n":30},{"c":33,"r":9,"n":36},{"c":34,"r":9,"n":41},{"c":35,"r":9,"n":37},{"c":36,"r":9,"n":39},{"c":37,"r":9,"n":37},{"c":38,"r":9,"n":55},{"c":39,"r":9,"n":43},
{"c":0,"r":10,"n":55},{"c":1,"r":10,"n":47},{"c":2,"r":10,"n":36},{"c":3,"r":10,"n":32},{"c":4,"r":10,"n":34},{"c":5,"r":10,"n":28},{"c":6,"r":10,"n":43},{"c":7,"r":10,"n":17},{"c":8,"r":10,"n":47},{"c":9,"r":10,"n":39},{"c":10,"r":10,"n":11},{"c":11,"r":10,"n":28},{"c":12,"r":10,"n":45},{"c":13,"r":10,"n":21},{"c":14,"r":10,"n":37},{"c":15,"r":10,"n":39},{"c":16,"r":10,"n":53},{"c":17,"r":10,"n":41},{"c":18,"r":10,"n":43},{"c":19,"r":10,"n":24},{"c":20,"r":10,"n":34},{"c":21,"r":10,"n":45},{"c":22,"r":10,"n":32},{"c":23,"r":10,"n":21},{"c":24,"r":10,"n":36},{"c":25,"r":10,"n":32},{"c":26,"r":10,"n":72},{"c":27,"r":10,"n":34},{"c":28,"r":10,"n":30},{"c":29,"r":10,"n":34},{"c":30,"r":10,"n":41},{"c":31,"r":10,"n":25},{"c":32,"r":10,"n":6},{"c":33,"r":10,"n":32},{"c":34,"r":10,"n":60},{"c":35,"r":10,"n":37},{"c":36,"r":10,"n":53},{"c":37,"r":10,"n":39},{"c":38,"r":10,"n":30},{"c":39,"r":10,"n":26},
{"c":0,"r":11,"n":62},{"c":1,"r":11,"n":20},{"c":2,"r":11,"n":45},{"c":3,"r":11,"n":30},{"c":4,"r":11,"n":47},{"c":5,"r":11,"n":36},{"c":6,"r":11,"n":27},{"c":7,"r":11,"n":12},{"c":8,"r":11,"n":39},{"c":9,"r":11,"n":43},{"c":10,"r":11,"n":43},{"c":11,"r":11,"n":30},{"c":12,"r":11,"n":60},{"c":13,"r":11,"n":32},{"c":14,"r":11,"n":45},{"c":15,"r":11,"n":35},{"c":16,"r":11,"n":28},{"c":17,"r":11,"n":62},{"c":18,"r":11,"n":37},{"c":19,"r":11,"n":37},{"c":20,"r":11,"n":18},{"c":21,"r":11,"n":19},{"c":22,"r":11,"n":24},{"c":23,"r":11,"n":19},{"c":24,"r":11,"n":38},{"c":25,"r":11,"n":32},{"c":26,"r":11,"n":34},{"c":27,"r":11,"n":34},{"c":28,"r":11,"n":34},{"c":29,"r":11,"n":39},{"c":30,"r":11,"n":35},{"c":31,"r":11,"n":20},{"c":32,"r":11,"n":60},{"c":33,"r":11,"n":41},{"c":34,"r":11,"n":36},{"c":35,"r":11,"n":30},{"c":36,"r":11,"n":57},{"c":37,"r":11,"n":34},{"c":38,"r":11,"n":21},{"c":39,"r":11,"n":39},
{"c":0,"r":12,"n":50},{"c":1,"r":12,"n":21},{"c":2,"r":12,"n":24},{"c":3,"r":12,"n":24},{"c":4,"r":12,"n":67},{"c":5,"r":12,"n":55},{"c":6,"r":12,"n":28},{"c":7,"r":12,"n":80},{"c":8,"r":12,"n":26},{"c":9,"r":12,"n":33},{"c":10,"r":12,"n":29},{"c":11,"r":12,"n":45},{"c":12,"r":12,"n":60},{"c":13,"r":12,"n":46},{"c":14,"r":12,"n":43},{"c":15,"r":12,"n":47},{"c":16,"r":12,"n":47},{"c":17,"r":12,"n":43},{"c":18,"r":12,"n":43},{"c":19,"r":12,"n":30},{"c":20,"r":12,"n":29},{"c":21,"r":12,"n":32},{"c":22,"r":12,"n":57},{"c":23,"r":12,"n":41},{"c":24,"r":12,"n":62},{"c":25,"r":12,"n":53},{"c":26,"r":12,"n":45},{"c":27,"r":12,"n":32},{"c":28,"r":12,"n":41},{"c":29,"r":12,"n":60},{"c":30,"r":12,"n":50},{"c":31,"r":12,"n":21},{"c":32,"r":12,"n":16},{"c":33,"r":12,"n":37},{"c":34,"r":12,"n":38},{"c":35,"r":12,"n":57},{"c":36,"r":12,"n":55},{"c":37,"r":12,"n":45},{"c":38,"r":12,"n":30},{"c":39,"r":12,"n":32},
{"c":0,"r":13,"n":34},{"c":1,"r":13,"n":41},{"c":2,"r":13,"n":60},{"c":3,"r":13,"n":28},{"c":4,"r":13,"n":34},{"c":5,"r":13,"n":43},{"c":6,"r":13,"n":50},{"c":7,"r":13,"n":45},{"c":8,"r":13,"n":29},{"c":9,"r":13,"n":47},{"c":10,"r":13,"n":25},{"c":11,"r":13,"n":19},{"c":12,"r":13,"n":45},{"c":13,"r":13,"n":45},{"c":14,"r":13,"n":47},{"c":15,"r":13,"n":45},{"c":16,"r":13,"n":70},{"c":17,"r":13,"n":53},{"c":18,"r":13,"n":64},{"c":19,"r":13,"n":43},{"c":20,"r":13,"n":28},{"c":21,"r":13,"n":14},{"c":22,"r":13,"n":55},{"c":23,"r":13,"n":57},{"c":24,"r":13,"n":64},{"c":25,"r":13,"n":47},{"c":26,"r":13,"n":50},{"c":27,"r":13,"n":29},{"c":28,"r":13,"n":22},{"c":29,"r":13,"n":68},{"c":30,"r":13,"n":29},{"c":31,"r":13,"n":43},{"c":32,"r":13,"n":50},{"c":33,"r":13,"n":47},{"c":34,"r":13,"n":43},{"c":35,"r":13,"n":53},{"c":36,"r":13,"n":24},{"c":37,"r":13,"n":60},{"c":38,"r":13,"n":58},{"c":39,"r":13,"n":13},
{"c":0,"r":14,"n":32},{"c":1,"r":14,"n":50},{"c":2,"r":14,"n":27},{"c":3,"r":14,"n":47},{"c":4,"r":14,"n":53},{"c":5,"r":14,"n":28},{"c":6,"r":14,"n":43},{"c":7,"r":14,"n":30},{"c":8,"r":14,"n":41},{"c":9,"r":14,"n":31},{"c":10,"r":14,"n":37},{"c":11,"r":14,"n":81},{"c":12,"r":14,"n":43},{"c":13,"r":14,"n":57},{"c":14,"r":14,"n":72},{"c":15,"r":14,"n":15},{"c":16,"r":14,"n":32},{"c":17,"r":14,"n":26},{"c":18,"r":14,"n":38},{"c":19,"r":14,"n":19},{"c":20,"r":14,"n":50},{"c":21,"r":14,"n":41},{"c":22,"r":14,"n":34},{"c":23,"r":14,"n":70},{"c":24,"r":14,"n":60},{"c":25,"r":14,"n":57},{"c":26,"r":14,"n":10},{"c":27,"r":14,"n":66},{"c":28,"r":14,"n":55},{"c":29,"r":14,"n":75},{"c":30,"r":14,"n":25},{"c":31,"r":14,"n":55},{"c":32,"r":14,"n":35},{"c":33,"r":14,"n":58},{"c":34,"r":14,"n":39},{"c":35,"r":14,"n":33},{"c":36,"r":14,"n":19},{"c":37,"r":14,"n":37},{"c":38,"r":14,"n":58},{"c":39,"r":14,"n":44},
{"c":0,"r":15,"n":17},{"c":1,"r":15,"n":60},{"c":2,"r":15,"n":55},{"c":3,"r":15,"n":50},{"c":4,"r":15,"n":36},{"c":5,"r":15,"n":53},{"c":6,"r":15,"n":41},{"c":7,"r":15,"n":47},{"c":8,"r":15,"n":36},{"c":9,"r":15,"n":70},{"c":10,"r":15,"n":33},{"c":11,"r":15,"n":23},{"c":12,"r":15,"n":47},{"c":13,"r":15,"n":43},{"c":14,"r":15,"n":58},{"c":15,"r":15,"n":50},{"c":16,"r":15,"n":23},{"c":17,"r":15,"n":30},{"c":18,"r":15,"n":33},{"c":19,"r":15,"n":50},{"c":20,"r":15,"n":34},{"c":21,"r":15,"n":32},{"c":22,"r":15,"n":45},{"c":23,"r":15,"n":27},{"c":24,"r":15,"n":53},{"c":25,"r":15,"n":50},{"c":26,"r":15,"n":60},{"c":27,"r":15,"n":25},{"c":28,"r":15,"n":28},{"c":29,"r":15,"n":39},{"c":30,"r":15,"n":39},{"c":31,"r":15,"n":14},{"c":32,"r":15,"n":21},{"c":33,"r":15,"n":45},{"c":34,"r":15,"n":34},{"c":35,"r":15,"n":50},{"c":36,"r":15,"n":31},{"c":37,"r":15,"n":45},{"c":38,"r":15,"n":69},{"c":39,"r":15,"n":50},
{"c":0,"r":16,"n":15},{"c":1,"r":16,"n":50},{"c":2,"r":16,"n":39},{"c":3,"r":16,"n":60},{"c":4,"r":16,"n":16},{"c":5,"r":16,"n":37},{"c":6,"r":16,"n":45},{"c":7,"r":16,"n":28},{"c":8,"r":16,"n":37},{"c":9,"r":16,"n":45},{"c":10,"r":16,"n":25},{"c":11,"r":16,"n":30},{"c":12,"r":16,"n":24},{"c":13,"r":16,"n":43},{"c":14,"r":16,"n":37},{"c":15,"r":16,"n":34},{"c":16,"r":16,"n":62},{"c":17,"r":16,"n":57},{"c":18,"r":16,"n":50},{"c":19,"r":16,"n":45},{"c":20,"r":16,"n":40},{"c":21,"r":16,"n":25},{"c":22,"r":16,"n":47},{"c":23,"r":16,"n":43},{"c":24,"r":16,"n":38},{"c":25,"r":16,"n":38},{"c":26,"r":16,"n":53},{"c":27,"r":16,"n":72},{"c":28,"r":16,"n":18},{"c":29,"r":16,"n":50},{"c":30,"r":16,"n":53},{"c":31,"r":16,"n":32},{"c":32,"r":16,"n":45},{"c":33,"r":16,"n":32},{"c":34,"r":16,"n":43},{"c":35,"r":16,"n":45},{"c":36,"r":16,"n":45},{"c":37,"r":16,"n":32},{"c":38,"r":16,"n":43},{"c":39,"r":16,"n":33},
{"c":0,"r":17,"n":45},{"c":1,"r":17,"n":30},{"c":2,"r":17,"n":39},{"c":3,"r":17,"n":53},{"c":4,"r":17,"n":38},{"c":5,"r":17,"n":23},{"c":6,"r":17,"n":37},{"c":7,"r":17,"n":53},{"c":8,"r":17,"n":34},{"c":9,"r":17,"n":41},{"c":10,"r":17,"n":36},{"c":11,"r":17,"n":47},{"c":12,"r":17,"n":12},{"c":13,"r":17,"n":38},{"c":14,"r":17,"n":60},{"c":15,"r":17,"n":37},{"c":16,"r":17,"n":50},{"c":17,"r":17,"n":65},{"c":18,"r":17,"n":30},{"c":19,"r":17,"n":37},{"c":20,"r":17,"n":32},{"c":21,"r":17,"n":21},{"c":22,"r":17,"n":34},{"c":23,"r":17,"n":57},{"c":24,"r":17,"n":24},{"c":25,"r":17,"n":34},{"c":26,"r":17,"n":38},{"c":27,"r":17,"n":27},{"c":28,"r":17,"n":39},{"c":29,"r":17,"n":41},{"c":30,"r":17,"n":39},{"c":31,"r":17,"n":55},{"c":32,"r":17,"n":53},{"c":33,"r":17,"n":22},{"c":34,"r":17,"n":22},{"c":35,"r":17,"n":45},{"c":36,"r":17,"n":47},{"c":37,"r":17,"n":33},{"c":38,"r":17,"n":38},{"c":39,"r":17,"n":16},
{"c":0,"r":18,"n":60},{"c":1,"r":18,"n":37},{"c":2,"r":18,"n":53},{"c":3,"r":18,"n":1},{"c":4,"r":18,"n":36},{"c":5,"r":18,"n":55},{"c":6,"r":18,"n":50},{"c":7,"r":18,"n":20},{"c":8,"r":18,"n":20},{"c":9,"r":18,"n":30},{"c":10,"r":18,"n":18},{"c":11,"r":18,"n":41},{"c":12,"r":18,"n":34},{"c":13,"r":18,"n":60},{"c":14,"r":18,"n":45},{"c":15,"r":18,"n":53},{"c":16,"r":18,"n":58},{"c":17,"r":18,"n":55},{"c":18,"r":18,"n":34},{"c":19,"r":18,"n":37},{"c":20,"r":18,"n":23},{"c":21,"r":18,"n":22},{"c":22,"r":18,"n":33},{"c":23,"r":18,"n":20},{"c":24,"r":18,"n":36},{"c":25,"r":18,"n":55},{"c":26,"r":18,"n":43},{"c":27,"r":18,"n":55},{"c":28,"r":18,"n":20},{"c":29,"r":18,"n":26},{"c":30,"r":18,"n":26},{"c":31,"r":18,"n":41},{"c":32,"r":18,"n":50},{"c":33,"r":18,"n":53},{"c":34,"r":18,"n":27},{"c":35,"r":18,"n":28},{"c":36,"r":18,"n":27},{"c":37,"r":18,"n":55},{"c":38,"r":18,"n":4},{"c":39,"r":18,"n":29},
{"c":0,"r":19,"n":34},{"c":1,"r":19,"n":43},{"c":2,"r":19,"n":9},{"c":3,"r":19,"n":50},{"c":4,"r":19,"n":21},{"c":5,"r":19,"n":37},{"c":6,"r":19,"n":25},{"c":7,"r":19,"n":16},{"c":8,"r":19,"n":41},{"c":9,"r":19,"n":26},{"c":10,"r":19,"n":32},{"c":11,"r":19,"n":55},{"c":12,"r":19,"n":66},{"c":13,"r":19,"n":37},{"c":14,"r":19,"n":50},{"c":15,"r":19,"n":34},{"c":16,"r":19,"n":70},{"c":17,"r":19,"n":19},{"c":18,"r":19,"n":41},{"c":19,"r":19,"n":47},{"c":20,"r":19,"n":47},{"c":21,"r":19,"n":36},{"c":22,"r":19,"n":25},{"c":23,"r":19,"n":17},{"c":24,"r":19,"n":34},{"c":25,"r":19,"n":30},{"c":26,"r":19,"n":45},{"c":27,"r":19,"n":75},{"c":28,"r":19,"n":22},{"c":29,"r":19,"n":34},{"c":30,"r":19,"n":60},{"c":31,"r":19,"n":47},{"c":32,"r":19,"n":24},{"c":33,"r":19,"n":57},{"c":34,"r":19,"n":34},{"c":35,"r":19,"n":30},{"c":36,"r":19,"n":50},{"c":37,"r":19,"n":38},{"c":38,"r":19,"n":33},{"c":39,"r":19,"n":35},
{"c":0,"r":20,"n":40},{"c":1,"r":20,"n":80},{"c":2,"r":20,"n":53},{"c":3,"r":20,"n":45},{"c":4,"r":20,"n":26},{"c":5,"r":20,"n":64},{"c":6,"r":20,"n":45},{"c":7,"r":20,"n":34},{"c":8,"r":20,"n":47},{"c":9,"r":20,"n":32},{"c":10,"r":20,"n":45},{"c":11,"r":20,"n":43},{"c":12,"r":20,"n":41},{"c":13,"r":20,"n":30},{"c":14,"r":20,"n":50},{"c":15,"r":20,"n":47},{"c":16,"r":20,"n":50},{"c":17,"r":20,"n":36},{"c":18,"r":20,"n":22},{"c":19,"r":20,"n":37},{"c":20,"r":20,"n":39},{"c":21,"r":20,"n":45},{"c":22,"r":20,"n":36},{"c":23,"r":20,"n":13},{"c":24,"r":20,"n":16},{"c":25,"r":20,"n":18},{"c":26,"r":20,"n":26},{"c":27,"r":20,"n":23},{"c":28,"r":20,"n":40},{"c":29,"r":20,"n":40},{"c":30,"r":20,"n":32},{"c":31,"r":20,"n":60},{"c":32,"r":20,"n":18},{"c":33,"r":20,"n":41},{"c":34,"r":20,"n":22},{"c":35,"r":20,"n":22},{"c":36,"r":20,"n":47},{"c":37,"r":20,"n":60},{"c":38,"r":20,"n":36},{"c":39,"r":20,"n":38},
{"c":0,"r":21,"n":62},{"c":1,"r":21,"n":50},{"c":2,"r":21,"n":41},{"c":3,"r":21,"n":34},{"c":4,"r":21,"n":34},{"c":5,"r":21,"n":50},{"c":6,"r":21,"n":27},{"c":7,"r":21,"n":23},{"c":8,"r":21,"n":60},{"c":9,"r":21,"n":39},{"c":10,"r":21,"n":21},{"c":11,"r":21,"n":62},{"c":12,"r":21,"n":29},{"c":13,"r":21,"n":33},{"c":14,"r":21,"n":66},{"c":15,"r":21,"n":50},{"c":16,"r":21,"n":38},{"c":17,"r":21,"n":38},{"c":18,"r":21,"n":12},{"c":19,"r":21,"n":47},{"c":20,"r":21,"n":40},{"c":21,"r":21,"n":17},{"c":22,"r":21,"n":45},{"c":23,"r":21,"n":53},{"c":24,"r":21,"n":53},{"c":25,"r":21,"n":27},{"c":26,"r":21,"n":38},{"c":27,"r":21,"n":43},{"c":28,"r":21,"n":58},{"c":29,"r":21,"n":32},{"c":30,"r":21,"n":17},{"c":31,"r":21,"n":32},{"c":32,"r":21,"n":62},{"c":33,"r":21,"n":55},{"c":34,"r":21,"n":60},{"c":35,"r":21,"n":25},{"c":36,"r":21,"n":60},{"c":37,"r":21,"n":36},{"c":38,"r":21,"n":47},{"c":39,"r":21,"n":32},
{"c":0,"r":22,"n":43},{"c":1,"r":22,"n":12},{"c":2,"r":22,"n":20},{"c":3,"r":22,"n":15},{"c":4,"r":22,"n":31},{"c":5,"r":22,"n":43},{"c":6,"r":22,"n":22},{"c":7,"r":22,"n":33},{"c":8,"r":22,"n":15},{"c":9,"r":22,"n":53},{"c":10,"r":22,"n":58},{"c":11,"r":22,"n":5},{"c":12,"r":22,"n":25},{"c":13,"r":22,"n":64},{"c":14,"r":22,"n":40},{"c":15,"r":22,"n":39},{"c":16,"r":22,"n":32},{"c":17,"r":22,"n":45},{"c":18,"r":22,"n":58},{"c":19,"r":22,"n":50},{"c":20,"r":22,"n":25},{"c":21,"r":22,"n":47},{"c":22,"r":22,"n":9},{"c":23,"r":22,"n":42},{"c":24,"r":22,"n":25},{"c":25,"r":22,"n":56},{"c":26,"r":22,"n":22},{"c":27,"r":22,"n":38},{"c":28,"r":22,"n":58},{"c":29,"r":22,"n":0},{"c":30,"r":22,"n":35},{"c":31,"r":22,"n":22},{"c":32,"r":22,"n":43},{"c":33,"r":22,"n":25},{"c":34,"r":22,"n":45},{"c":35,"r":22,"n":50},{"c":36,"r":22,"n":50},{"c":37,"r":22,"n":40},{"c":38,"r":22,"n":25},{"c":39,"r":22,"n":40},
{"c":0,"r":23,"n":62},{"c":1,"r":23,"n":47},{"c":2,"r":23,"n":30},{"c":3,"r":23,"n":39},{"c":4,"r":23,"n":47},{"c":5,"r":23,"n":57},{"c":6,"r":23,"n":32},{"c":7,"r":23,"n":45},{"c":8,"r":23,"n":47},{"c":9,"r":23,"n":62},{"c":10,"r":23,"n":19},{"c":11,"r":23,"n":53},{"c":12,"r":23,"n":35},{"c":13,"r":23,"n":43},{"c":14,"r":23,"n":41},{"c":15,"r":23,"n":55},{"c":16,"r":23,"n":62},{"c":17,"r":23,"n":53},{"c":18,"r":23,"n":33},{"c":19,"r":23,"n":47},{"c":20,"r":23,"n":36},{"c":21,"r":23,"n":62},{"c":22,"r":23,"n":53},{"c":23,"r":23,"n":41},{"c":24,"r":23,"n":60},{"c":25,"r":23,"n":43},{"c":26,"r":23,"n":32},{"c":27,"r":23,"n":41},{"c":28,"r":23,"n":64},{"c":29,"r":23,"n":55},{"c":30,"r":23,"n":35},{"c":31,"r":23,"n":45},{"c":32,"r":23,"n":25},{"c":33,"r":23,"n":23},{"c":34,"r":23,"n":45},{"c":35,"r":23,"n":35},{"c":36,"r":23,"n":32},{"c":37,"r":23,"n":26},{"c":38,"r":23,"n":47},{"c":39,"r":23,"n":50},
{"c":0,"r":24,"n":32},{"c":1,"r":24,"n":24},{"c":2,"r":24,"n":50},{"c":3,"r":24,"n":50},{"c":4,"r":24,"n":30},{"c":5,"r":24,"n":60},{"c":6,"r":24,"n":53},{"c":7,"r":24,"n":39},{"c":8,"r":24,"n":35},{"c":9,"r":24,"n":27},{"c":10,"r":24,"n":45},{"c":11,"r":24,"n":41},{"c":12,"r":24,"n":67},{"c":13,"r":24,"n":60},{"c":14,"r":24,"n":21},{"c":15,"r":24,"n":55},{"c":16,"r":24,"n":47},{"c":17,"r":24,"n":30},{"c":18,"r":24,"n":17},{"c":19,"r":24,"n":21},{"c":20,"r":24,"n":34},{"c":21,"r":24,"n":47},{"c":22,"r":24,"n":72},{"c":23,"r":24,"n":55},{"c":24,"r":24,"n":36},{"c":25,"r":24,"n":14},{"c":26,"r":24,"n":29},{"c":27,"r":24,"n":41},{"c":28,"r":24,"n":28},{"c":29,"r":24,"n":55},{"c":30,"r":24,"n":64},{"c":31,"r":24,"n":39},{"c":32,"r":24,"n":23},{"c":33,"r":24,"n":23},{"c":34,"r":24,"n":69},{"c":35,"r":24,"n":45},{"c":36,"r":24,"n":45},{"c":37,"r":24,"n":32},{"c":38,"r":24,"n":60},{"c":39,"r":24,"n":21},
{"c":0,"r":25,"n":57},{"c":1,"r":25,"n":46},{"c":2,"r":25,"n":53},{"c":3,"r":25,"n":62},{"c":4,"r":25,"n":55},{"c":5,"r":25,"n":37},{"c":6,"r":25,"n":55},{"c":7,"r":25,"n":32},{"c":8,"r":25,"n":41},{"c":9,"r":25,"n":60},{"c":10,"r":25,"n":60},{"c":11,"r":25,"n":45},{"c":12,"r":25,"n":41},{"c":13,"r":25,"n":64},{"c":14,"r":25,"n":47},{"c":15,"r":25,"n":34},{"c":16,"r":25,"n":57},{"c":17,"r":25,"n":28},{"c":18,"r":25,"n":60},{"c":19,"r":25,"n":43},{"c":20,"r":25,"n":55},{"c":21,"r":25,"n":25},{"c":22,"r":25,"n":57},{"c":23,"r":25,"n":59},{"c":24,"r":25,"n":40},{"c":25,"r":25,"n":34},{"c":26,"r":25,"n":39},{"c":27,"r":25,"n":39},{"c":28,"r":25,"n":65},{"c":29,"r":25,"n":32},{"c":30,"r":25,"n":15},{"c":31,"r":25,"n":58},{"c":32,"r":25,"n":50},{"c":33,"r":25,"n":25},{"c":34,"r":25,"n":29},{"c":35,"r":25,"n":45},{"c":36,"r":25,"n":53},{"c":37,"r":25,"n":70},{"c":38,"r":25,"n":47},{"c":39,"r":25,"n":60},
{"c":0,"r":26,"n":45},{"c":1,"r":26,"n":45},{"c":2,"r":26,"n":53},{"c":3,"r":26,"n":17},{"c":4,"r":26,"n":14},{"c":5,"r":26,"n":36},{"c":6,"r":26,"n":15},{"c":7,"r":26,"n":34},{"c":8,"r":26,"n":38},{"c":9,"r":26,"n":38},{"c":10,"r":26,"n":22},{"c":11,"r":26,"n":30},{"c":12,"r":26,"n":60},{"c":13,"r":26,"n":22},{"c":14,"r":26,"n":60},{"c":15,"r":26,"n":69},{"c":16,"r":26,"n":69},{"c":17,"r":26,"n":58},{"c":18,"r":26,"n":34},{"c":19,"r":26,"n":53},{"c":20,"r":26,"n":40},{"c":21,"r":26,"n":20},{"c":22,"r":26,"n":62},{"c":23,"r":26,"n":40},{"c":24,"r":26,"n":34},{"c":25,"r":26,"n":31},{"c":26,"r":26,"n":57},{"c":27,"r":26,"n":30},{"c":28,"r":26,"n":36},{"c":29,"r":26,"n":24},{"c":30,"r":26,"n":36},{"c":31,"r":26,"n":62},{"c":32,"r":26,"n":43},{"c":33,"r":26,"n":20},{"c":34,"r":26,"n":60},{"c":35,"r":26,"n":45},{"c":36,"r":26,"n":20},{"c":37,"r":26,"n":36},{"c":38,"r":26,"n":30},{"c":39,"r":26,"n":34},
{"c":0,"r":27,"n":69},{"c":1,"r":27,"n":33},{"c":2,"r":27,"n":32},{"c":3,"r":27,"n":45},{"c":4,"r":27,"n":23},{"c":5,"r":27,"n":33},{"c":6,"r":27,"n":19},{"c":7,"r":27,"n":53},{"c":8,"r":27,"n":40},{"c":9,"r":27,"n":15},{"c":10,"r":27,"n":53},{"c":11,"r":27,"n":37},{"c":12,"r":27,"n":64},{"c":13,"r":27,"n":27},{"c":14,"r":27,"n":27},{"c":15,"r":27,"n":38},{"c":16,"r":27,"n":32},{"c":17,"r":27,"n":17},{"c":18,"r":27,"n":38},{"c":19,"r":27,"n":65},{"c":20,"r":27,"n":43},{"c":21,"r":27,"n":58},{"c":22,"r":27,"n":38},{"c":23,"r":27,"n":38},{"c":24,"r":27,"n":43},{"c":25,"r":27,"n":28},{"c":26,"r":27,"n":55},{"c":27,"r":27,"n":50},{"c":28,"r":27,"n":34},{"c":29,"r":27,"n":28},{"c":30,"r":27,"n":31},{"c":31,"r":27,"n":40},{"c":32,"r":27,"n":45},{"c":33,"r":27,"n":27},{"c":34,"r":27,"n":36},{"c":35,"r":27,"n":55},{"c":36,"r":27,"n":40},{"c":37,"r":27,"n":80},{"c":38,"r":27,"n":47},{"c":39,"r":27,"n":32},
{"c":0,"r":28,"n":21},{"c":1,"r":28,"n":47},{"c":2,"r":28,"n":30},{"c":3,"r":28,"n":40},{"c":4,"r":28,"n":27},{"c":5,"r":28,"n":43},{"c":6,"r":28,"n":31},{"c":7,"r":28,"n":35},{"c":8,"r":28,"n":64},{"c":9,"r":28,"n":45},{"c":10,"r":28,"n":20},{"c":11,"r":28,"n":45},{"c":12,"r":28,"n":20},{"c":13,"r":28,"n":45},{"c":14,"r":28,"n":36},{"c":15,"r":28,"n":30},{"c":16,"r":28,"n":70},{"c":17,"r":28,"n":43},{"c":18,"r":28,"n":40},{"c":19,"r":28,"n":19},{"c":20,"r":28,"n":40},{"c":21,"r":28,"n":22},{"c":22,"r":28,"n":43},{"c":23,"r":28,"n":34},{"c":24,"r":28,"n":43},{"c":25,"r":28,"n":50},{"c":26,"r":28,"n":60},{"c":27,"r":28,"n":50},{"c":28,"r":28,"n":45},{"c":29,"r":28,"n":43},{"c":30,"r":28,"n":35},{"c":31,"r":28,"n":69},{"c":32,"r":28,"n":29},{"c":33,"r":28,"n":64},{"c":34,"r":28,"n":47},{"c":35,"r":28,"n":41},{"c":36,"r":28,"n":53},{"c":37,"r":28,"n":40},{"c":38,"r":28,"n":53},{"c":39,"r":28,"n":45},
{"c":0,"r":29,"n":19},{"c":1,"r":29,"n":26},{"c":2,"r":29,"n":43},{"c":3,"r":29,"n":45},{"c":4,"r":29,"n":60},{"c":5,"r":29,"n":41},{"c":6,"r":29,"n":31},{"c":7,"r":29,"n":36},{"c":8,"r":29,"n":41},{"c":9,"r":29,"n":26},{"c":10,"r":29,"n":55},{"c":11,"r":29,"n":36},{"c":12,"r":29,"n":12},{"c":13,"r":29,"n":17},{"c":14,"r":29,"n":14},{"c":15,"r":29,"n":34},{"c":16,"r":29,"n":45},{"c":17,"r":29,"n":25},{"c":18,"r":29,"n":35},{"c":19,"r":29,"n":36},{"c":20,"r":29,"n":62},{"c":21,"r":29,"n":39},{"c":22,"r":29,"n":19},{"c":23,"r":29,"n":26},{"c":24,"r":29,"n":47},{"c":25,"r":29,"n":25},{"c":26,"r":29,"n":62},{"c":27,"r":29,"n":39},{"c":28,"r":29,"n":41},{"c":29,"r":29,"n":67},{"c":30,"r":29,"n":33},{"c":31,"r":29,"n":33},{"c":32,"r":29,"n":12},{"c":33,"r":29,"n":39},{"c":34,"r":29,"n":34},{"c":35,"r":29,"n":62},{"c":36,"r":29,"n":50},{"c":37,"r":29,"n":39},{"c":38,"r":29,"n":67},{"c":39,"r":29,"n":41},
{"c":0,"r":30,"n":38},{"c":1,"r":30,"n":40},{"c":2,"r":30,"n":14},{"c":3,"r":30,"n":24},{"c":4,"r":30,"n":21},{"c":5,"r":30,"n":66},{"c":6,"r":30,"n":34},{"c":7,"r":30,"n":32},{"c":8,"r":30,"n":45},{"c":9,"r":30,"n":43},{"c":10,"r":30,"n":11},{"c":11,"r":30,"n":34},{"c":12,"r":30,"n":34},{"c":13,"r":30,"n":45},{"c":14,"r":30,"n":43},{"c":15,"r":30,"n":58},{"c":16,"r":30,"n":20},{"c":17,"r":30,"n":17},{"c":18,"r":30,"n":36},{"c":19,"r":30,"n":34},{"c":20,"r":30,"n":34},{"c":21,"r":30,"n":36},{"c":22,"r":30,"n":58},{"c":23,"r":30,"n":18},{"c":24,"r":30,"n":40},{"c":25,"r":30,"n":40},{"c":26,"r":30,"n":19},{"c":27,"r":30,"n":20},{"c":28,"r":30,"n":53},{"c":29,"r":30,"n":19},{"c":30,"r":30,"n":22},{"c":31,"r":30,"n":32},{"c":32,"r":30,"n":70},{"c":33,"r":30,"n":45},{"c":34,"r":30,"n":29},{"c":35,"r":30,"n":37},{"c":36,"r":30,"n":37},{"c":37,"r":30,"n":47},{"c":38,"r":30,"n":64},{"c":39,"r":30,"n":43},
{"c":0,"r":31,"n":25},{"c":1,"r":31,"n":21},{"c":2,"r":31,"n":22},{"c":3,"r":31,"n":30},{"c":4,"r":31,"n":45},{"c":5,"r":31,"n":50},{"c":6,"r":31,"n":45},{"c":7,"r":31,"n":35},{"c":8,"r":31,"n":34},{"c":9,"r":31,"n":39},{"c":10,"r":31,"n":47},{"c":11,"r":31,"n":27},{"c":12,"r":31,"n":69},{"c":13,"r":31,"n":47},{"c":14,"r":31,"n":12},{"c":15,"r":31,"n":40},{"c":16,"r":31,"n":40},{"c":17,"r":31,"n":27},{"c":18,"r":31,"n":62},{"c":19,"r":31,"n":19},{"c":20,"r":31,"n":55},{"c":21,"r":31,"n":39},{"c":22,"r":31,"n":53},{"c":23,"r":31,"n":43},{"c":24,"r":31,"n":30},{"c":25,"r":31,"n":32},{"c":26,"r":31,"n":38},{"c":27,"r":31,"n":29},{"c":28,"r":31,"n":7},{"c":29,"r":31,"n":29},{"c":30,"r":31,"n":50},{"c":31,"r":31,"n":37},{"c":32,"r":31,"n":67},{"c":33,"r":31,"n":20},{"c":34,"r":31,"n":58},{"c":35,"r":31,"n":34},{"c":36,"r":31,"n":66},{"c":37,"r":31,"n":40},{"c":38,"r":31,"n":14},{"c":39,"r":31,"n":47},
{"c":0,"r":32,"n":43},{"c":1,"r":32,"n":14},{"c":2,"r":32,"n":21},{"c":3,"r":32,"n":64},{"c":4,"r":32,"n":32},{"c":5,"r":32,"n":28},{"c":6,"r":32,"n":29},{"c":7,"r":32,"n":40},{"c":8,"r":32,"n":70},{"c":9,"r":32,"n":4},{"c":10,"r":32,"n":37},{"c":11,"r":32,"n":41},{"c":12,"r":32,"n":25},{"c":13,"r":32,"n":53},{"c":14,"r":32,"n":28},{"c":15,"r":32,"n":33},{"c":16,"r":32,"n":45},{"c":17,"r":32,"n":32},{"c":18,"r":32,"n":40},{"c":19,"r":32,"n":22},{"c":20,"r":32,"n":32},{"c":21,"r":32,"n":33},{"c":22,"r":32,"n":19},{"c":23,"r":32,"n":37},{"c":24,"r":32,"n":56},{"c":25,"r":32,"n":56},{"c":26,"r":32,"n":46},{"c":27,"r":32,"n":25},{"c":28,"r":32,"n":25},{"c":29,"r":32,"n":43},{"c":30,"r":32,"n":37},{"c":31,"r":32,"n":12},{"c":32,"r":32,"n":26},{"c":33,"r":32,"n":41},{"c":34,"r":32,"n":46},{"c":35,"r":32,"n":50},{"c":36,"r":32,"n":55},{"c":37,"r":32,"n":62},{"c":38,"r":32,"n":41},{"c":39,"r":32,"n":64},
{"c":0,"r":33,"n":38},{"c":1,"r":33,"n":40},{"c":2,"r":33,"n":62},{"c":3,"r":33,"n":31},{"c":4,"r":33,"n":35},{"c":5,"r":33,"n":62},{"c":6,"r":33,"n":53},{"c":7,"r":33,"n":20},{"c":8,"r":33,"n":53},{"c":9,"r":33,"n":11},{"c":10,"r":33,"n":23},{"c":11,"r":33,"n":39},{"c":12,"r":33,"n":32},{"c":13,"r":33,"n":32},{"c":14,"r":33,"n":43},{"c":15,"r":33,"n":41},{"c":16,"r":33,"n":13},{"c":17,"r":33,"n":28},{"c":18,"r":33,"n":15},{"c":19,"r":33,"n":39},{"c":20,"r":33,"n":43},{"c":21,"r":33,"n":22},{"c":22,"r":33,"n":23},{"c":23,"r":33,"n":19},{"c":24,"r":33,"n":40},{"c":25,"r":33,"n":31},{"c":26,"r":33,"n":40},{"c":27,"r":33,"n":62},{"c":28,"r":33,"n":50},{"c":29,"r":33,"n":21},{"c":30,"r":33,"n":53},{"c":31,"r":33,"n":23},{"c":32,"r":33,"n":38},{"c":33,"r":33,"n":22},{"c":34,"r":33,"n":31},{"c":35,"r":33,"n":34},{"c":36,"r":33,"n":14},{"c":37,"r":33,"n":38},{"c":38,"r":33,"n":40},{"c":39,"r":33,"n":40},
{"c":0,"r":34,"n":43},{"c":1,"r":34,"n":34},{"c":2,"r":34,"n":36},{"c":3,"r":34,"n":69},{"c":4,"r":34,"n":89},{"c":5,"r":34,"n":20},{"c":6,"r":34,"n":37},{"c":7,"r":34,"n":40},{"c":8,"r":34,"n":43},{"c":9,"r":34,"n":20},{"c":10,"r":34,"n":45},{"c":11,"r":34,"n":23},{"c":12,"r":34,"n":53},{"c":13,"r":34,"n":58},{"c":14,"r":34,"n":20},{"c":15,"r":34,"n":10},{"c":16,"r":34,"n":57},{"c":17,"r":34,"n":28},{"c":18,"r":34,"n":29},{"c":19,"r":34,"n":22},{"c":20,"r":34,"n":30},{"c":21,"r":34,"n":37},{"c":22,"r":34,"n":43},{"c":23,"r":34,"n":30},{"c":24,"r":34,"n":45},{"c":25,"r":34,"n":20},{"c":26,"r":34,"n":43},{"c":27,"r":34,"n":43},{"c":28,"r":34,"n":41},{"c":29,"r":34,"n":33},{"c":30,"r":34,"n":45},{"c":31,"r":34,"n":50},{"c":32,"r":34,"n":30},{"c":33,"r":34,"n":41},{"c":34,"r":34,"n":6},{"c":35,"r":34,"n":50},{"c":36,"r":34,"n":89},{"c":37,"r":34,"n":53},{"c":38,"r":34,"n":87},{"c":39,"r":34,"n":47},
{"c":0,"r":35,"n":58},{"c":1,"r":35,"n":43},{"c":2,"r":35,"n":47},{"c":3,"r":35,"n":45},{"c":4,"r":35,"n":20},{"c":5,"r":35,"n":55},{"c":6,"r":35,"n":45},{"c":7,"r":35,"n":27},{"c":8,"r":35,"n":14},{"c":9,"r":35,"n":40},{"c":10,"r":35,"n":19},{"c":11,"r":35,"n":50},{"c":12,"r":35,"n":30},{"c":13,"r":35,"n":34},{"c":14,"r":35,"n":20},{"c":15,"r":35,"n":14},{"c":16,"r":35,"n":4},{"c":17,"r":35,"n":53},{"c":18,"r":35,"n":60},{"c":19,"r":35,"n":37},{"c":20,"r":35,"n":33},{"c":21,"r":35,"n":41},{"c":22,"r":35,"n":34},{"c":23,"r":35,"n":13},{"c":24,"r":35,"n":35},{"c":25,"r":35,"n":41},{"c":26,"r":35,"n":45},{"c":27,"r":35,"n":39},{"c":28,"r":35,"n":33},{"c":29,"r":35,"n":28},{"c":30,"r":35,"n":47},{"c":31,"r":35,"n":37},{"c":32,"r":35,"n":33},{"c":33,"r":35,"n":81},{"c":34,"r":35,"n":43},{"c":35,"r":35,"n":47},{"c":36,"r":35,"n":55},{"c":37,"r":35,"n":67},{"c":38,"r":35,"n":14},{"c":39,"r":35,"n":41},
{"c":0,"r":36,"n":39},{"c":1,"r":36,"n":39},{"c":2,"r":36,"n":28},{"c":3,"r":36,"n":39},{"c":4,"r":36,"n":53},{"c":5,"r":36,"n":18},{"c":6,"r":36,"n":23},{"c":7,"r":36,"n":55},{"c":8,"r":36,"n":35},{"c":9,"r":36,"n":39},{"c":10,"r":36,"n":29},{"c":11,"r":36,"n":34},{"c":12,"r":36,"n":85},{"c":13,"r":36,"n":37},{"c":14,"r":36,"n":50},{"c":15,"r":36,"n":45},{"c":16,"r":36,"n":23},{"c":17,"r":36,"n":35},{"c":18,"r":36,"n":0},{"c":19,"r":36,"n":15},{"c":20,"r":36,"n":41},{"c":21,"r":36,"n":45},{"c":22,"r":36,"n":53},{"c":23,"r":36,"n":34},{"c":24,"r":36,"n":30},{"c":25,"r":36,"n":45},{"c":26,"r":36,"n":62},{"c":27,"r":36,"n":41},{"c":28,"r":36,"n":55},{"c":29,"r":36,"n":12},{"c":30,"r":36,"n":75},{"c":31,"r":36,"n":50},{"c":32,"r":36,"n":12},{"c":33,"r":36,"n":28},{"c":34,"r":36,"n":32},{"c":35,"r":36,"n":43},{"c":36,"r":36,"n":15},{"c":37,"r":36,"n":40},{"c":38,"r":36,"n":36},{"c":39,"r":36,"n":55},
{"c":0,"r":37,"n":19},{"c":1,"r":37,"n":45},{"c":2,"r":37,"n":23},{"c":3,"r":37,"n":23},{"c":4,"r":37,"n":73},{"c":5,"r":37,"n":50},{"c":6,"r":37,"n":69},{"c":7,"r":37,"n":39},{"c":8,"r":37,"n":50},{"c":9,"r":37,"n":38},{"c":10,"r":37,"n":22},{"c":11,"r":37,"n":23},{"c":12,"r":37,"n":23},{"c":13,"r":37,"n":55},{"c":14,"r":37,"n":32},{"c":15,"r":37,"n":40},{"c":16,"r":37,"n":19},{"c":17,"r":37,"n":47},{"c":18,"r":37,"n":22},{"c":19,"r":37,"n":28},{"c":20,"r":37,"n":43},{"c":21,"r":37,"n":34},{"c":22,"r":37,"n":23},{"c":23,"r":37,"n":47},{"c":24,"r":37,"n":9},{"c":25,"r":37,"n":36},{"c":26,"r":37,"n":50},{"c":27,"r":37,"n":39},{"c":28,"r":37,"n":18},{"c":29,"r":37,"n":34},{"c":30,"r":37,"n":56},{"c":31,"r":37,"n":45},{"c":32,"r":37,"n":43},{"c":33,"r":37,"n":45},{"c":34,"r":37,"n":47},{"c":35,"r":37,"n":55},{"c":36,"r":37,"n":80},{"c":37,"r":37,"n":55},{"c":38,"r":37,"n":43},{"c":39,"r":37,"n":39},
{"c":0,"r":38,"n":45},{"c":1,"r":38,"n":70},{"c":2,"r":38,"n":50},{"c":3,"r":38,"n":45},{"c":4,"r":38,"n":60},{"c":5,"r":38,"n":34},{"c":6,"r":38,"n":45},{"c":7,"r":38,"n":25},{"c":8,"r":38,"n":27},{"c":9,"r":38,"n":34},{"c":10,"r":38,"n":64},{"c":11,"r":38,"n":56},{"c":12,"r":38,"n":32},{"c":13,"r":38,"n":28},{"c":14,"r":38,"n":37},{"c":15,"r":38,"n":38},{"c":16,"r":38,"n":64},{"c":17,"r":38,"n":75},{"c":18,"r":38,"n":34},{"c":19,"r":38,"n":20},{"c":20,"r":38,"n":50},{"c":21,"r":38,"n":25},{"c":22,"r":38,"n":47},{"c":23,"r":38,"n":55},{"c":24,"r":38,"n":43},{"c":25,"r":38,"n":38},{"c":26,"r":38,"n":33},{"c":27,"r":38,"n":50},{"c":28,"r":38,"n":24},{"c":29,"r":38,"n":57},{"c":30,"r":38,"n":30},{"c":31,"r":38,"n":53},{"c":32,"r":38,"n":61},{"c":33,"r":38,"n":84},{"c":34,"r":38,"n":68},{"c":35,"r":38,"n":41},{"c":36,"r":38,"n":33},{"c":37,"r":38,"n":71},{"c":38,"r":38,"n":60},{"c":39,"r":38,"n":68},
{"c":0,"r":39,"n":53},{"c":1,"r":39,"n":30},{"c":2,"r":39,"n":53},{"c":3,"r":39,"n":39},{"c":4,"r":39,"n":30},{"c":5,"r":39,"n":41},{"c":6,"r":39,"n":39},{"c":7,"r":39,"n":53},{"c":8,"r":39,"n":9},{"c":9,"r":39,"n":60},{"c":10,"r":39,"n":25},{"c":11,"r":39,"n":66},{"c":12,"r":39,"n":23},{"c":13,"r":39,"n":38},{"c":14,"r":39,"n":47},{"c":15,"r":39,"n":20},{"c":16,"r":39,"n":36},{"c":17,"r":39,"n":67},{"c":18,"r":39,"n":45},{"c":19,"r":39,"n":36},{"c":20,"r":39,"n":15},{"c":21,"r":39,"n":45},{"c":22,"r":39,"n":41},{"c":23,"r":39,"n":45},{"c":24,"r":39,"n":47},{"c":25,"r":39,"n":64},{"c":26,"r":39,"n":64},{"c":27,"r":39,"n":32},{"c":28,"r":39,"n":40},{"c":29,"r":39,"n":36},{"c":30,"r":39,"n":58},{"c":31,"r":39,"n":15},{"c":32,"r":39,"n":32},{"c":33,"r":39,"n":40},{"c":34,"r":39,"n":64},{"c":35,"r":39,"n":37},{"c":36,"r":39,"n":58},{"c":37,"r":39,"n":55},{"c":38,"r":39,"n":53},{"c":39,"r":39,"n":75}
],
"bar":[{"n":0.5},{"n":1.5},{"n":2.5},{"n":3.5},{"n":4.5},{"n":5.5},{"n":6.5},{"n":7.5},{"n":8.5},{"n":9.5},{"n":10.5},{"n":11.5},{"n":12.5},{"n":13.5},{"n":14.5},{"n":15.5},{"n":16.5},{"n":17.5},{"n":18.5},{"n":19.5},{"n":20.5},{"n":21.5},{"n":22.5},{"n":23.5},{"n":24.5},{"n":25.5},{"n":26.5},{"n":27.5},{"n":28.5},{"n":29.5},{"n":30.5},{"n":31.5},{"n":32.5},{"n":33.5},{"n":34.5},{"n":35.5},{"n":36.5},{"n":37.5},{"n":38.5},{"n":39.5},{"n":40.5},{"n":41.5},{"n":42.5},{"n":43.5},{"n":44.5},{"n":45.5},{"n":46.5},{"n":47.5},{"n":48.5},{"n":49.5},{"n":50.5},{"n":51.5},{"n":52.5},{"n":53.5},{"n":54.5},{"n":55.5},{"n":56.5},{"n":57.5},{"n":58.5},{"n":59.5},{"n":60.5},{"n":61.5},{"n":62.5},{"n":63.5},{"n":64.5},{"n":65.5},{"n":66.5},{"n":67.5},{"n":68.5},{"n":69.5},{"n":70.5},{"n":71.5},{"n":72.5},{"n":73.5},{"n":74.5},{"n":75.5},{"n":76.5},{"n":77.5},{"n":78.5},{"n":79.5},{"n":80.5},{"n":81.5},{"n":82.5},{"n":83.5},{"n":84.5},{"n":85.5},{"n":86.5},{"n":87.5},{"n":88.5},{"n":89.5},{"n":90.5},{"n":91.5},{"n":92.5},{"n":93.5},{"n":94.5},{"n":95.5},{"n":96.5},{"n":97.5},{"n":98.5},{"n":99.5}]},
"hconcat":[
{"width":876,"height":876,"layer":[
{"data":{"name":"iter01"},"mark":{"type":"rect","width":18.4,"height":18.4},"encoding":{
"x":{"field":"c","type":"quantitative","scale":{"domain":[-4.5,43.5]},"axis":null},
"y":{"field":"r","type":"quantitative","scale":{"domain":[43.5,-4.5]},"axis":null},
"color":{"field":"n","type":"quantitative","legend":null,"scale":{"domain":[0,50,100],"range":["#0000ff","#ffffff","#ff0000"],"interpolate":"rgb"}}}},
{"data":{"name":"frame"},"mark":{"type":"rect","opacity":0,"width":1,"height":1},"encoding":{
"x":{"field":"x","type":"quantitative","scale":{"domain":[-0.6,0.6]},"axis":{"orient":"bottom","title":"x pixel phase","titleX":438,"titleY":148,"titleBaseline":"alphabetic","format":".1~f","values":[-0.5,0,0.5],"tickSize":-41,"labelPadding":66}},
"y":{"field":"y","type":"quantitative","scale":{"domain":[-0.6,0.6]},"axis":{"orient":"left","title":"y pixel phase","titleX":-198,"titleY":438,"titleBaseline":"alphabetic","format":".1~f","values":[-0.6,-0.4,-0.2,0,0.2,0.4,0.6],"tickSize":-41,"labelPadding":69}}}},
{"data":{"name":"frame"},"mark":{"type":"rect","opacity":0,"width":1,"height":1},"encoding":{
"x":{"field":"x","type":"quantitative","scale":{"domain":[-0.6,0.6]},"axis":{"orient":"bottom","title":null,"labels":false,"domain":false,"values":[-0.4,-0.3,-0.2,-0.1,0.1,0.2,0.3,0.4],"tickSize":-20}},
"y":{"field":"y","type":"quantitative","scale":{"domain":[-0.6,0.6]},"axis":{"orient":"left","title":null,"labels":false,"domain":false,"values":[-0.55,-0.5,-0.45,-0.35,-0.3,-0.25,-0.15,-0.1,-0.05,0.05,0.1,0.15,0.25,0.3,0.35,0.45,0.5,0.55],"tickSize":-20}}}},
{"data":{"name":"frame"},"mark":{"type":"rect","opacity":0,"width":1,"height":1},"encoding":{
"x":{"field":"x","type":"quantitative","scale":{"domain":[-0.6,0.6]},"axis":{"orient":"top","title":"ITER 01","titleFontSize":54,"titleX":438,"titleY":-50,"titleBaseline":"alphabetic","labels":false,"values":[-0.5,0,0.5],"tickSize":-41}},
"y":{"field":"y","type":"quantitative","scale":{"domain":[-0.6,0.6]},"axis":{"orient":"right","title":null,"labels":false,"values":[-0.6,-0.4,-0.2,0,0.2,0.4,0.6],"tickSize":-41}}}},
{"data":{"name":"frame"},"mark":{"type":"rect","opacity":0,"width":1,"height":1},"encoding":{
"x":{"field":"x","type":"quantitative","scale":{"domain":[-0.6,0.6]},"axis":{"orient":"top","title":null,"labels":false,"domain":false,"values":[-0.4,-0.3,-0.2,-0.1,0.1,0.2,0.3,0.4],"tickSize":-20}},
"y":{"field":"y","type":"quantitative","scale":{"domain":[-0.6,0.6]},"axis":{"orient":"right","title":null,"labels":false,"domain":false,"values":[-0.55,-0.5,-0.45,-0.35,-0.3,-0.25,-0.15,-0.1,-0.05,0.05,0.1,0.15,0.25,0.3,0.35,0.45,0.5,0.55],"tickSize":-20}}}}
],"resolve":{"scale":{"x":"independent","y":"independent"}}},
{"width":876,"height":876,"layer":[
{"data":{"name":"iter20"},"mark":{"type":"rect","width":18.4,"height":18.4},"encoding":{
"x":{"field":"c","type":"quantitative","scale":{"domain":[-4.5,43.5]},"axis":null},
"y":{"field":"r","type":"quantitative","scale":{"domain":[43.5,-4.5]},"axis":null},
"color":{"field":"n","type":"quantitative","legend":null,"scale":{"domain":[0,50,100],"range":["#0000ff","#ffffff","#ff0000"],"interpolate":"rgb"}}}},
{"data":{"name":"frame"},"mark":{"type":"rect","opacity":0,"width":1,"height":1},"encoding":{
"x":{"field":"x","type":"quantitative","scale":{"domain":[-0.6,0.6]},"axis":{"orient":"bottom","title":"x pixel phase","titleX":438,"titleY":148,"titleBaseline":"alphabetic","format":".1~f","values":[-0.5,0,0.5],"tickSize":-41,"labelPadding":66}},
"y":{"field":"y","type":"quantitative","scale":{"domain":[-0.6,0.6]},"axis":{"orient":"left","title":null,"labels":false,"values":[-0.5,0,0.5],"tickSize":-41}}}},
{"data":{"name":"frame"},"mark":{"type":"rect","opacity":0,"width":1,"height":1},"encoding":{
"x":{"field":"x","type":"quantitative","scale":{"domain":[-0.6,0.6]},"axis":{"orient":"bottom","title":null,"labels":false,"domain":false,"values":[-0.4,-0.3,-0.2,-0.1,0.1,0.2,0.3,0.4],"tickSize":-20}},
"y":{"field":"y","type":"quantitative","scale":{"domain":[-0.6,0.6]},"axis":{"orient":"left","title":null,"labels":false,"domain":false,"values":[-0.4,-0.3,-0.2,-0.1,0.1,0.2,0.3,0.4],"tickSize":-20}}}},
{"data":{"name":"frame"},"mark":{"type":"rect","opacity":0,"width":1,"height":1},"encoding":{
"x":{"field":"x","type":"quantitative","scale":{"domain":[-0.6,0.6]},"axis":{"orient":"top","title":"ITER 20","titleFontSize":54,"titleX":438,"titleY":-50,"titleBaseline":"alphabetic","labels":false,"values":[-0.5,0,0.5],"tickSize":-41}},
"y":{"field":"y","type":"quantitative","scale":{"domain":[-0.6,0.6]},"axis":{"orient":"right","title":null,"labels":false,"values":[-0.5,0,0.5],"tickSize":-41}}}},
{"data":{"name":"frame"},"mark":{"type":"rect","opacity":0,"width":1,"height":1},"encoding":{
"x":{"field":"x","type":"quantitative","scale":{"domain":[-0.6,0.6]},"axis":{"orient":"top","title":null,"labels":false,"domain":false,"values":[-0.4,-0.3,-0.2,-0.1,0.1,0.2,0.3,0.4],"tickSize":-20}},
"y":{"field":"y","type":"quantitative","scale":{"domain":[-0.6,0.6]},"axis":{"orient":"right","title":null,"labels":false,"domain":false,"values":[-0.4,-0.3,-0.2,-0.1,0.1,0.2,0.3,0.4],"tickSize":-20}}}}
],"resolve":{"scale":{"x":"independent","y":"independent"}}},
{"width":73,"height":876,"layer":[
{"data":{"name":"bar"},"mark":{"type":"rect","width":73,"height":9.2},"encoding":{
"x":{"datum":0,"type":"quantitative","scale":{"domain":[-1,1]},"axis":{"orient":"bottom","title":null,"labels":false,"ticks":false,"domainColor":"#444444"}},
"y":{"field":"n","type":"quantitative","scale":{"domain":[0,100]},"axis":{"orient":"right","title":"Normalized","titleX":197,"titleY":474,"titleBaseline":"alphabetic","titleAngle":270,"domainColor":"#444444","values":[0,20,40,60,80,100],"labelExpr":"format(datum.value/100,'.1~f')","tickSize":-41,"labelPadding":80}},
"color":{"field":"n","type":"quantitative","legend":null,"scale":{"domain":[0,50,100],"range":["#0000ff","#ffffff","#ff0000"],"interpolate":"rgb"}}}},
{"data":{"name":"frame"},"mark":{"type":"rect","opacity":0,"width":1,"height":1},"encoding":{
"x":{"datum":0,"type":"quantitative","scale":{"domain":[-1,1]},"axis":{"orient":"top","title":null,"labels":false,"ticks":false,"domainColor":"#444444"}},
"y":{"field":"y","type":"quantitative","scale":{"domain":[0,100]},"axis":{"orient":"right","title":null,"labels":false,"domain":false,"values":[5,10,15,25,30,35,45,50,55,65,70,75,85,90,95],"tickSize":-21}}}},
{"data":{"name":"frame"},"mark":{"type":"rect","opacity":0,"width":1,"height":1},"encoding":{
"x":{"datum":0,"type":"quantitative","scale":{"domain":[-1,1]},"axis":null},
"y":{"field":"y","type":"quantitative","scale":{"domain":[0,100]},"axis":{"orient":"right","title":"N","titleFontStyle":"italic","titleX":197,"titleY":246,"titleBaseline":"alphabetic","titleAngle":270,"labels":false,"ticks":false,"domain":false}}}},
{"data":{"name":"frame"},"mark":{"type":"rect","opacity":0,"width":1,"height":1},"encoding":{
"x":{"datum":0,"type":"quantitative","scale":{"domain":[-1,1]},"axis":null},
"y":{"field":"y","type":"quantitative","scale":{"domain":[0,100]},"axis":{"orient":"left","title":null,"labels":false,"ticks":false,"domainColor":"#444444"}}}}
],"resolve":{"axis":{"x":"independent","y":"independent"}}}
]}
